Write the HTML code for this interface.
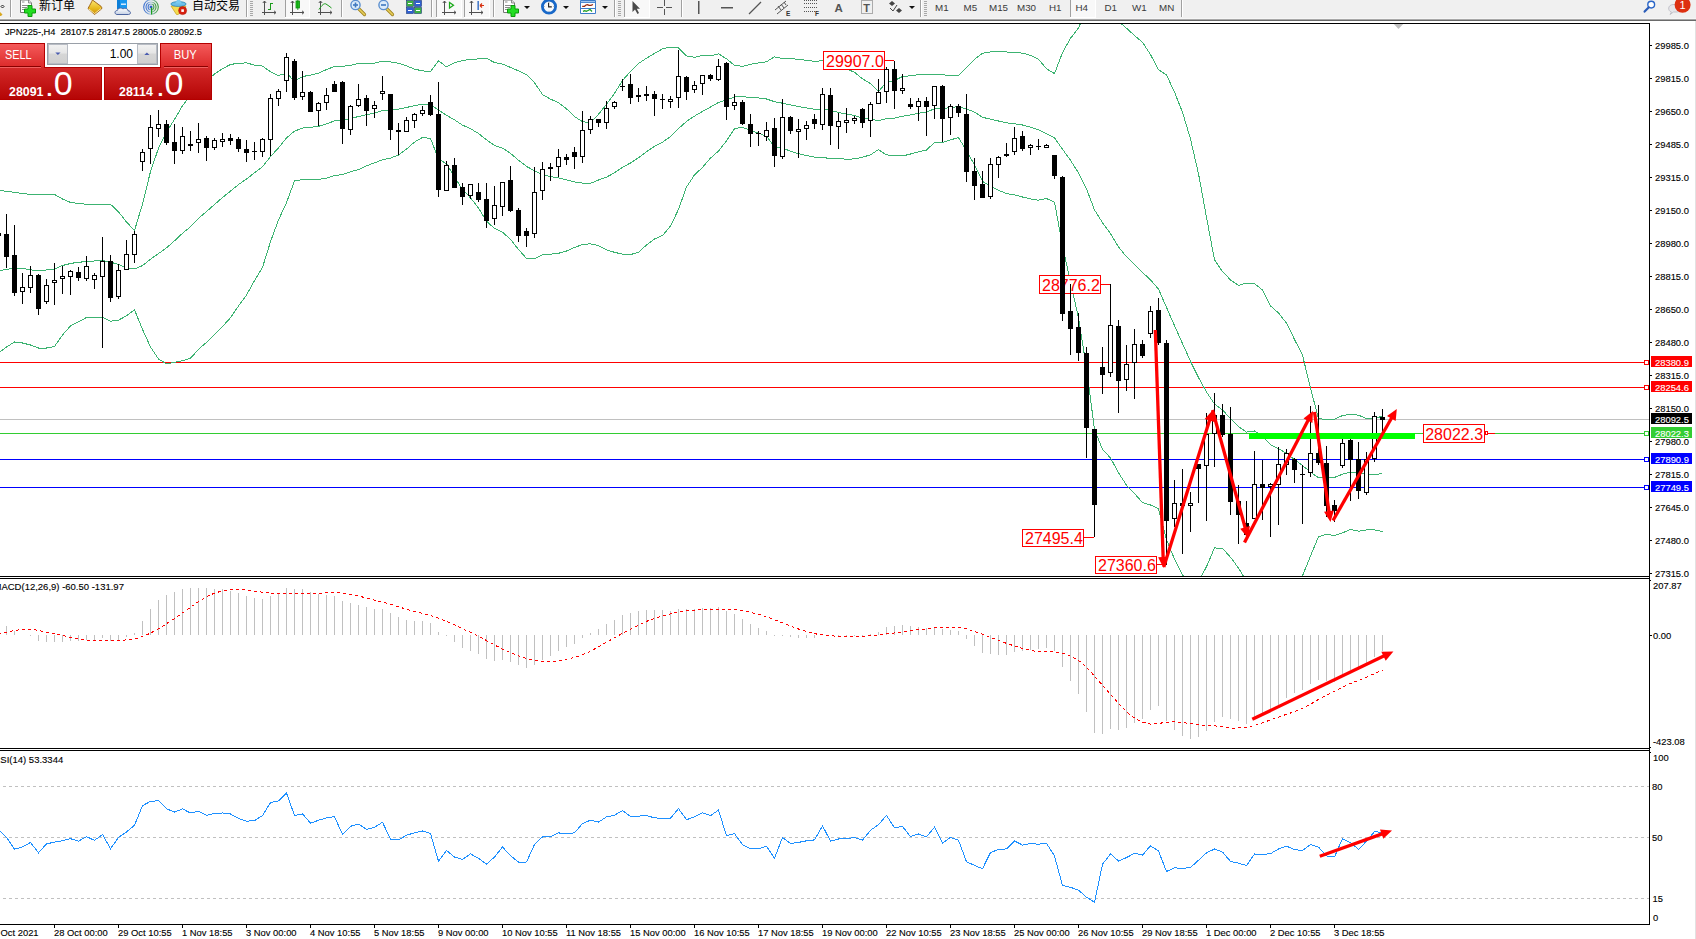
<!DOCTYPE html>
<html><head><meta charset="utf-8"><style>
html,body{margin:0;padding:0;width:1696px;height:939px;overflow:hidden;background:#fff}
svg{display:block}
text{font-family:"Liberation Sans","Noto Sans CJK SC",sans-serif}
</style></head><body>
<svg width="1696" height="939" viewBox="0 0 1696 939">
<rect x="0" y="0" width="1696" height="939" fill="#fff"/>
<defs><clipPath id="cm"><rect x="0" y="24" width="1649" height="552"/></clipPath><clipPath id="cd"><rect x="0" y="579" width="1649" height="169"/></clipPath><clipPath id="cr"><rect x="0" y="751" width="1649" height="173"/></clipPath></defs>
<g clip-path="url(#cm)" shape-rendering="crispEdges">
<line x1="0" y1="362.5" x2="1649" y2="362.5" stroke="#ff0000" stroke-width="1"/>
<rect x="1644.5" y="360.5" width="4" height="4" fill="#fff" stroke="#ff0000" stroke-width="1"/>
<line x1="0" y1="387.5" x2="1649" y2="387.5" stroke="#ff0000" stroke-width="1"/>
<rect x="1644.5" y="385.5" width="4" height="4" fill="#fff" stroke="#ff0000" stroke-width="1"/>
<line x1="0" y1="419.5" x2="1649" y2="419.5" stroke="#c0c0c0" stroke-width="1"/>
<line x1="0" y1="433.5" x2="1649" y2="433.5" stroke="#32cd32" stroke-width="1"/>
<rect x="1644.5" y="431.5" width="4" height="4" fill="#fff" stroke="#32cd32" stroke-width="1"/>
<line x1="0" y1="459.5" x2="1649" y2="459.5" stroke="#0000ff" stroke-width="1"/>
<rect x="1644.5" y="457.5" width="4" height="4" fill="#fff" stroke="#0000ff" stroke-width="1"/>
<line x1="0" y1="487.5" x2="1649" y2="487.5" stroke="#0000ff" stroke-width="1"/>
<rect x="1644.5" y="485.5" width="4" height="4" fill="#fff" stroke="#0000ff" stroke-width="1"/>
<polyline points="-1.5,190.0 6.5,191.5 14.5,192.2 22.5,193.5 30.5,194.5 38.5,194.5 46.5,194.5 54.5,194.5 62.5,199.0 70.5,202.4 78.5,203.5 86.5,204.3 94.5,204.3 102.5,204.3 110.5,204.3 118.5,211.8 126.5,222.0 134.5,230.5 142.5,204.0 150.5,171.5 158.5,148.2 166.5,132.0 174.5,119.4 182.5,105.8 190.5,95.4 198.5,87.2 206.5,80.7 214.5,74.1 222.5,68.7 230.5,64.5 238.5,63.2 246.5,62.9 254.5,65.1 262.5,66.1 270.5,71.7 278.5,75.6 286.5,73.1 294.5,81.3 302.5,76.5 310.5,75.2 318.5,73.1 326.5,69.6 334.5,66.4 342.5,66.3 350.5,65.3 358.5,63.5 366.5,63.6 374.5,63.1 382.5,61.3 390.5,61.9 398.5,63.3 406.5,65.9 414.5,69.1 422.5,70.9 430.5,71.6 438.5,60.8 446.5,66.9 454.5,62.8 462.5,60.5 470.5,59.5 478.5,58.9 486.5,58.4 494.5,62.5 502.5,64.1 510.5,67.4 518.5,70.9 526.5,74.5 534.5,82.7 542.5,94.5 550.5,99.1 558.5,102.6 566.5,108.8 574.5,116.6 582.5,121.6 590.5,122.8 598.5,114.2 606.5,104.3 614.5,93.3 622.5,80.5 630.5,71.4 638.5,63.5 646.5,58.2 654.5,53.5 662.5,48.8 670.5,47.1 678.5,47.9 686.5,55.9 694.5,57.3 702.5,55.4 710.5,55.8 718.5,53.8 726.5,58.8 734.5,65.4 742.5,66.3 750.5,64.3 758.5,63.0 766.5,61.7 774.5,56.9 782.5,58.4 790.5,58.6 798.5,59.3 806.5,60.3 814.5,61.3 822.5,60.8 830.5,61.8 838.5,66.4 846.5,68.7 854.5,72.3 862.5,78.8 870.5,83.6 878.5,91.4 886.5,82.4 894.5,80.5 902.5,76.5 910.5,75.8 918.5,74.7 926.5,74.2 934.5,74.9 942.5,74.9 950.5,75.2 958.5,75.8 966.5,67.6 974.5,59.2 982.5,53.2 990.5,52.0 998.5,51.8 1006.5,52.0 1014.5,52.7 1022.5,53.1 1030.5,55.3 1038.5,59.4 1046.5,68.7 1054.5,73.6 1062.5,52.7 1070.5,38.3 1078.5,28.0 1086.5,9.7 1094.5,-9.8 1102.5,-4.0 1110.5,9.4 1118.5,21.3 1126.5,28.2 1134.5,35.5 1142.5,42.3 1150.5,54.6 1158.5,69.6 1166.5,75.0 1174.5,92.1 1182.5,112.2 1190.5,139.0 1198.5,173.7 1206.5,217.2 1214.5,259.9 1222.5,271.5 1230.5,279.9 1238.5,285.4 1246.5,283.1 1254.5,283.8 1262.5,289.9 1270.5,305.9 1278.5,313.0 1286.5,323.1 1294.5,339.4 1302.5,355.2 1310.5,388.2 1318.5,418.6 1326.5,419.5 1334.5,419.2 1342.5,415.5 1350.5,414.5 1358.5,415.1 1366.5,418.7 1374.5,419.0 1382.5,415.8" fill="none" stroke="#3cb371" stroke-width="1" />
<polyline points="-1.5,270.8 6.5,269.5 14.5,268.0 22.5,268.5 30.5,269.8 38.5,271.0 46.5,270.0 54.5,269.0 62.5,265.5 70.5,263.5 78.5,262.2 86.5,261.7 94.5,261.0 102.5,260.5 110.5,262.2 118.5,264.4 126.5,268.1 134.5,269.0 142.5,265.6 150.5,259.2 158.5,253.6 166.5,247.9 174.5,240.8 182.5,233.3 190.5,226.8 198.5,218.3 206.5,211.5 214.5,204.5 222.5,197.6 230.5,191.1 238.5,184.6 246.5,179.0 254.5,172.8 262.5,166.7 270.5,156.7 278.5,147.8 286.5,137.9 294.5,131.1 302.5,128.1 310.5,127.3 318.5,126.3 326.5,123.9 334.5,120.9 342.5,120.5 350.5,118.5 358.5,116.5 366.5,114.7 374.5,112.9 382.5,110.6 390.5,110.0 398.5,109.2 406.5,107.5 414.5,105.6 422.5,104.2 430.5,105.0 438.5,109.9 446.5,115.3 454.5,119.8 462.5,125.1 470.5,128.7 478.5,133.5 486.5,139.8 494.5,145.5 502.5,148.1 510.5,153.4 518.5,160.2 526.5,166.4 534.5,170.8 542.5,174.7 550.5,176.6 558.5,177.9 566.5,179.9 574.5,182.0 582.5,183.1 590.5,183.3 598.5,180.0 606.5,177.1 614.5,172.8 622.5,167.3 630.5,163.0 638.5,157.8 646.5,151.6 654.5,146.3 662.5,142.2 670.5,136.6 678.5,128.6 686.5,121.4 694.5,116.1 702.5,111.4 710.5,107.0 718.5,102.4 726.5,99.8 734.5,97.0 742.5,96.7 750.5,97.5 758.5,98.0 766.5,99.0 774.5,101.7 782.5,103.2 790.5,104.9 798.5,106.5 806.5,108.0 814.5,109.2 822.5,109.0 830.5,110.3 838.5,112.5 846.5,113.9 854.5,115.6 862.5,118.0 870.5,119.2 878.5,120.5 886.5,118.7 894.5,118.1 902.5,116.3 910.5,114.9 918.5,113.3 926.5,112.1 934.5,108.7 942.5,108.7 950.5,107.5 958.5,106.7 966.5,109.0 974.5,112.1 982.5,117.3 990.5,119.2 998.5,121.0 1006.5,122.8 1014.5,123.8 1022.5,125.0 1030.5,127.1 1038.5,129.8 1046.5,133.6 1054.5,137.9 1062.5,149.2 1070.5,160.3 1078.5,172.9 1086.5,188.9 1094.5,209.9 1102.5,222.7 1110.5,233.6 1118.5,247.0 1126.5,256.7 1134.5,264.6 1142.5,272.4 1150.5,279.8 1158.5,289.1 1166.5,307.4 1174.5,325.6 1182.5,343.5 1190.5,361.4 1198.5,377.5 1206.5,392.0 1214.5,403.9 1222.5,409.9 1230.5,418.6 1238.5,426.7 1246.5,432.1 1254.5,431.0 1262.5,436.6 1270.5,444.6 1278.5,448.8 1286.5,453.2 1294.5,459.5 1302.5,465.5 1310.5,472.1 1318.5,477.7 1326.5,477.0 1334.5,477.4 1342.5,474.2 1350.5,472.1 1358.5,473.2 1366.5,474.4 1374.5,474.5 1382.5,473.7" fill="none" stroke="#3cb371" stroke-width="1" />
<polyline points="-1.5,353.0 6.5,347.0 14.5,342.0 22.5,343.0 30.5,345.0 38.5,348.0 46.5,348.0 54.5,346.5 62.5,335.0 70.5,326.0 78.5,321.8 86.5,317.5 94.5,317.5 102.5,317.2 110.5,321.3 118.5,320.1 126.5,315.8 134.5,309.9 142.5,329.5 150.5,346.9 158.5,359.0 166.5,363.9 174.5,362.2 182.5,360.8 190.5,358.2 198.5,349.4 206.5,342.3 214.5,334.8 222.5,326.6 230.5,317.7 238.5,306.0 246.5,295.0 254.5,280.6 262.5,267.3 270.5,241.7 278.5,219.9 286.5,202.7 294.5,180.9 302.5,179.7 310.5,179.4 318.5,179.4 326.5,178.1 334.5,175.4 342.5,174.7 350.5,171.8 358.5,169.6 366.5,165.8 374.5,162.8 382.5,159.8 390.5,158.1 398.5,155.0 406.5,149.1 414.5,142.1 422.5,137.4 430.5,138.5 438.5,159.1 446.5,163.8 454.5,176.8 462.5,189.7 470.5,197.8 478.5,208.1 486.5,221.2 494.5,228.5 502.5,232.2 510.5,239.4 518.5,249.5 526.5,258.4 534.5,258.9 542.5,254.9 550.5,254.2 558.5,253.3 566.5,251.0 574.5,247.5 582.5,244.5 590.5,243.8 598.5,245.7 606.5,249.8 614.5,252.3 622.5,254.2 630.5,254.6 638.5,252.2 646.5,245.0 654.5,239.0 662.5,235.5 670.5,226.1 678.5,209.3 686.5,187.0 694.5,174.9 702.5,167.4 710.5,158.1 718.5,151.0 726.5,140.8 734.5,128.7 742.5,127.2 750.5,130.6 758.5,132.9 766.5,136.4 774.5,146.6 782.5,148.0 790.5,151.2 798.5,153.7 806.5,155.6 814.5,157.2 822.5,157.2 830.5,158.8 838.5,158.6 846.5,159.2 854.5,158.9 862.5,157.2 870.5,154.8 878.5,149.6 886.5,154.9 894.5,155.7 902.5,156.0 910.5,154.0 918.5,151.9 926.5,150.1 934.5,142.4 942.5,142.6 950.5,139.8 958.5,137.7 966.5,150.4 974.5,165.0 982.5,181.3 990.5,186.4 998.5,190.2 1006.5,193.6 1014.5,194.9 1022.5,197.0 1030.5,198.9 1038.5,200.2 1046.5,198.5 1054.5,202.1 1062.5,245.6 1070.5,282.3 1078.5,317.7 1086.5,368.2 1094.5,429.6 1102.5,449.4 1110.5,457.9 1118.5,472.8 1126.5,485.2 1134.5,493.6 1142.5,502.6 1150.5,505.0 1158.5,508.6 1166.5,539.7 1174.5,559.1 1182.5,574.8 1190.5,583.8 1198.5,581.3 1206.5,566.7 1214.5,547.9 1222.5,548.4 1230.5,557.3 1238.5,568.0 1246.5,581.1 1254.5,578.2 1262.5,583.4 1270.5,583.3 1278.5,584.6 1286.5,583.3 1294.5,579.6 1302.5,575.8 1310.5,556.0 1318.5,536.8 1326.5,534.3 1334.5,535.5 1342.5,532.8 1350.5,529.5 1358.5,531.2 1366.5,530.0 1374.5,529.9 1382.5,531.6" fill="none" stroke="#3cb371" stroke-width="1" />
<line x1="885" y1="60.5" x2="894" y2="60.5" stroke="#ff0000"/><rect x="823.5" y="51.5" width="61" height="18" fill="#fff" stroke="#ff0000"/>
<text x="826" y="67" font-size="16" fill="#ff0000" text-anchor="start" >29907.0</text>
<line x1="1101" y1="284.5" x2="1110" y2="284.5" stroke="#ff0000"/><rect x="1039.5" y="275.5" width="61" height="18" fill="#fff" stroke="#ff0000"/>
<text x="1042" y="291" font-size="16" fill="#ff0000" text-anchor="start" >28776.2</text>
<line x1="1084" y1="537.5" x2="1094" y2="537.5" stroke="#ff0000"/><rect x="1022.5" y="529.5" width="61" height="17" fill="#fff" stroke="#ff0000"/>
<text x="1025" y="544" font-size="16" fill="#ff0000" text-anchor="start" >27495.4</text>
<line x1="1157" y1="564.5" x2="1166" y2="564.5" stroke="#ff0000"/><rect x="1095.5" y="556.5" width="61" height="17" fill="#fff" stroke="#ff0000"/>
<text x="1098" y="571" font-size="16" fill="#ff0000" text-anchor="start" >27360.6</text>
<rect x="1423.5" y="424.5" width="61" height="18" fill="#fff" stroke="#ff0000"/><rect x="1485.5" y="431.5" width="2" height="3" fill="#fff" stroke="#ff0000"/><line x1="1488" y1="433.5" x2="1495" y2="433.5" stroke="#ff0000"/>
<text x="1425.2" y="439.6" font-size="16" fill="#ff0000" text-anchor="start" >28022.3</text>
<line x1="-1.5" y1="228" x2="-1.5" y2="240" stroke="#000"/>
<rect x="-4" y="233" width="5" height="3" fill="#000"/>
<line x1="6.5" y1="214" x2="6.5" y2="268" stroke="#000"/>
<rect x="4" y="234" width="5" height="23" fill="#000"/>
<line x1="14.5" y1="225" x2="14.5" y2="296" stroke="#000"/>
<rect x="12" y="255" width="5" height="38" fill="#000"/>
<line x1="22.5" y1="273" x2="22.5" y2="304" stroke="#000"/>
<rect x="20.5" y="287.5" width="4" height="4" fill="#fff" stroke="#000"/>
<line x1="30.5" y1="266" x2="30.5" y2="293" stroke="#000"/>
<rect x="28.5" y="275.5" width="4" height="12" fill="#fff" stroke="#000"/>
<line x1="38.5" y1="274" x2="38.5" y2="315" stroke="#000"/>
<rect x="36" y="275" width="5" height="34" fill="#000"/>
<line x1="46.5" y1="279" x2="46.5" y2="304" stroke="#000"/>
<rect x="44.5" y="285.5" width="4" height="16" fill="#fff" stroke="#000"/>
<line x1="54.5" y1="263" x2="54.5" y2="305" stroke="#000"/>
<rect x="52.5" y="280.5" width="4" height="2" fill="#fff" stroke="#000"/>
<line x1="62.5" y1="266" x2="62.5" y2="294" stroke="#000"/>
<rect x="60.5" y="276.5" width="4" height="2" fill="#fff" stroke="#000"/>
<line x1="70.5" y1="270" x2="70.5" y2="295" stroke="#000"/>
<rect x="68.5" y="271.5" width="4" height="5" fill="#fff" stroke="#000"/>
<line x1="78.5" y1="267" x2="78.5" y2="281" stroke="#000"/>
<rect x="76" y="272" width="5" height="6" fill="#000"/>
<line x1="86.5" y1="256" x2="86.5" y2="281" stroke="#000"/>
<rect x="84.5" y="266.5" width="4" height="12" fill="#fff" stroke="#000"/>
<line x1="94.5" y1="273" x2="94.5" y2="289" stroke="#000"/>
<rect x="92.5" y="275.5" width="4" height="4" fill="#fff" stroke="#000"/>
<line x1="102.5" y1="237" x2="102.5" y2="348" stroke="#000"/>
<rect x="100.5" y="261.5" width="4" height="15" fill="#fff" stroke="#000"/>
<line x1="110.5" y1="255" x2="110.5" y2="302" stroke="#000"/>
<rect x="108" y="261" width="5" height="37" fill="#000"/>
<line x1="118.5" y1="264" x2="118.5" y2="299" stroke="#000"/>
<rect x="116.5" y="270.5" width="4" height="26" fill="#fff" stroke="#000"/>
<line x1="126.5" y1="240" x2="126.5" y2="270" stroke="#000"/>
<rect x="124.5" y="254.5" width="4" height="15" fill="#fff" stroke="#000"/>
<line x1="134.5" y1="231" x2="134.5" y2="263" stroke="#000"/>
<rect x="132.5" y="234.5" width="4" height="20" fill="#fff" stroke="#000"/>
<line x1="142.5" y1="149" x2="142.5" y2="171" stroke="#000"/>
<rect x="140.5" y="152.5" width="4" height="9" fill="#fff" stroke="#000"/>
<line x1="150.5" y1="115" x2="150.5" y2="164" stroke="#000"/>
<rect x="148.5" y="127.5" width="4" height="21" fill="#fff" stroke="#000"/>
<line x1="158.5" y1="110" x2="158.5" y2="137" stroke="#000"/>
<rect x="156.5" y="124.5" width="4" height="4" fill="#fff" stroke="#000"/>
<line x1="166.5" y1="120" x2="166.5" y2="145" stroke="#000"/>
<rect x="164" y="124" width="5" height="19" fill="#000"/>
<line x1="174.5" y1="124" x2="174.5" y2="164" stroke="#000"/>
<rect x="172" y="142" width="5" height="9" fill="#000"/>
<line x1="182.5" y1="127" x2="182.5" y2="154" stroke="#000"/>
<rect x="180.5" y="136.5" width="4" height="14" fill="#fff" stroke="#000"/>
<line x1="190.5" y1="131" x2="190.5" y2="151" stroke="#000"/>
<rect x="188" y="144" width="5" height="2" fill="#000"/>
<line x1="198.5" y1="123" x2="198.5" y2="153" stroke="#000"/>
<rect x="196.5" y="139.5" width="4" height="3" fill="#fff" stroke="#000"/>
<line x1="206.5" y1="136" x2="206.5" y2="161" stroke="#000"/>
<rect x="204" y="138" width="5" height="10" fill="#000"/>
<line x1="214.5" y1="138" x2="214.5" y2="150" stroke="#000"/>
<rect x="212.5" y="140.5" width="4" height="7" fill="#fff" stroke="#000"/>
<line x1="222.5" y1="133" x2="222.5" y2="147" stroke="#000"/>
<rect x="220.5" y="139.5" width="4" height="2" fill="#fff" stroke="#000"/>
<line x1="230.5" y1="134" x2="230.5" y2="145" stroke="#000"/>
<rect x="228" y="138" width="5" height="3" fill="#000"/>
<line x1="238.5" y1="137" x2="238.5" y2="152" stroke="#000"/>
<rect x="236" y="139" width="5" height="10" fill="#000"/>
<line x1="246.5" y1="140" x2="246.5" y2="162" stroke="#000"/>
<rect x="244" y="149" width="5" height="4" fill="#000"/>
<line x1="254.5" y1="142" x2="254.5" y2="160" stroke="#000"/>
<rect x="252" y="151" width="5" height="1" fill="#000"/>
<line x1="262.5" y1="138" x2="262.5" y2="157" stroke="#000"/>
<rect x="260.5" y="139.5" width="4" height="12" fill="#fff" stroke="#000"/>
<line x1="270.5" y1="94" x2="270.5" y2="156" stroke="#000"/>
<rect x="268.5" y="98.5" width="4" height="41" fill="#fff" stroke="#000"/>
<line x1="278.5" y1="89" x2="278.5" y2="106" stroke="#000"/>
<rect x="276.5" y="91.5" width="4" height="7" fill="#fff" stroke="#000"/>
<line x1="286.5" y1="53" x2="286.5" y2="92" stroke="#000"/>
<rect x="284.5" y="57.5" width="4" height="23" fill="#fff" stroke="#000"/>
<line x1="294.5" y1="59" x2="294.5" y2="100" stroke="#000"/>
<rect x="292" y="61" width="5" height="37" fill="#000"/>
<line x1="302.5" y1="71" x2="302.5" y2="100" stroke="#000"/>
<rect x="300.5" y="92.5" width="4" height="4" fill="#fff" stroke="#000"/>
<line x1="310.5" y1="91" x2="310.5" y2="112" stroke="#000"/>
<rect x="308" y="92" width="5" height="20" fill="#000"/>
<line x1="318.5" y1="102" x2="318.5" y2="126" stroke="#000"/>
<rect x="316.5" y="103.5" width="4" height="7" fill="#fff" stroke="#000"/>
<line x1="326.5" y1="88" x2="326.5" y2="110" stroke="#000"/>
<rect x="324.5" y="95.5" width="4" height="7" fill="#fff" stroke="#000"/>
<line x1="334.5" y1="81" x2="334.5" y2="92" stroke="#000"/>
<rect x="332" y="84" width="5" height="8" fill="#000"/>
<line x1="342.5" y1="81" x2="342.5" y2="144" stroke="#000"/>
<rect x="340" y="82" width="5" height="47" fill="#000"/>
<line x1="350.5" y1="105" x2="350.5" y2="135" stroke="#000"/>
<rect x="348.5" y="106.5" width="4" height="23" fill="#fff" stroke="#000"/>
<line x1="358.5" y1="84" x2="358.5" y2="107" stroke="#000"/>
<rect x="356.5" y="99.5" width="4" height="6" fill="#fff" stroke="#000"/>
<line x1="366.5" y1="95" x2="366.5" y2="126" stroke="#000"/>
<rect x="364" y="98" width="5" height="13" fill="#000"/>
<line x1="374.5" y1="101" x2="374.5" y2="118" stroke="#000"/>
<rect x="372.5" y="105.5" width="4" height="3" fill="#fff" stroke="#000"/>
<line x1="382.5" y1="76" x2="382.5" y2="100" stroke="#000"/>
<rect x="380.5" y="91.5" width="4" height="2" fill="#fff" stroke="#000"/>
<line x1="390.5" y1="94" x2="390.5" y2="140" stroke="#000"/>
<rect x="388" y="94" width="5" height="36" fill="#000"/>
<line x1="398.5" y1="123" x2="398.5" y2="155" stroke="#000"/>
<rect x="396" y="130" width="5" height="2" fill="#000"/>
<line x1="406.5" y1="117" x2="406.5" y2="132" stroke="#000"/>
<rect x="404.5" y="120.5" width="4" height="11" fill="#fff" stroke="#000"/>
<line x1="414.5" y1="113" x2="414.5" y2="128" stroke="#000"/>
<rect x="412.5" y="114.5" width="4" height="6" fill="#fff" stroke="#000"/>
<line x1="422.5" y1="106" x2="422.5" y2="116" stroke="#000"/>
<rect x="420.5" y="110.5" width="4" height="3" fill="#fff" stroke="#000"/>
<line x1="430.5" y1="95" x2="430.5" y2="116" stroke="#000"/>
<rect x="428" y="102" width="5" height="13" fill="#000"/>
<line x1="438.5" y1="82" x2="438.5" y2="197" stroke="#000"/>
<rect x="436" y="114" width="5" height="76" fill="#000"/>
<line x1="446.5" y1="161" x2="446.5" y2="191" stroke="#000"/>
<rect x="444.5" y="165.5" width="4" height="25" fill="#fff" stroke="#000"/>
<line x1="454.5" y1="158" x2="454.5" y2="188" stroke="#000"/>
<rect x="452" y="165" width="5" height="23" fill="#000"/>
<line x1="462.5" y1="183" x2="462.5" y2="205" stroke="#000"/>
<rect x="460" y="187" width="5" height="10" fill="#000"/>
<line x1="470.5" y1="184" x2="470.5" y2="199" stroke="#000"/>
<rect x="468.5" y="184.5" width="4" height="11" fill="#fff" stroke="#000"/>
<line x1="478.5" y1="183" x2="478.5" y2="202" stroke="#000"/>
<rect x="476" y="192" width="5" height="8" fill="#000"/>
<line x1="486.5" y1="183" x2="486.5" y2="228" stroke="#000"/>
<rect x="484" y="199" width="5" height="22" fill="#000"/>
<line x1="494.5" y1="186" x2="494.5" y2="225" stroke="#000"/>
<rect x="492.5" y="205.5" width="4" height="13" fill="#fff" stroke="#000"/>
<line x1="502.5" y1="182" x2="502.5" y2="216" stroke="#000"/>
<rect x="500.5" y="182.5" width="4" height="24" fill="#fff" stroke="#000"/>
<line x1="510.5" y1="166" x2="510.5" y2="212" stroke="#000"/>
<rect x="508" y="180" width="5" height="31" fill="#000"/>
<line x1="518.5" y1="208" x2="518.5" y2="242" stroke="#000"/>
<rect x="516" y="210" width="5" height="26" fill="#000"/>
<line x1="526.5" y1="228" x2="526.5" y2="247" stroke="#000"/>
<rect x="524" y="231" width="5" height="5" fill="#000"/>
<line x1="534.5" y1="167" x2="534.5" y2="238" stroke="#000"/>
<rect x="532.5" y="192.5" width="4" height="41" fill="#fff" stroke="#000"/>
<line x1="542.5" y1="162" x2="542.5" y2="200" stroke="#000"/>
<rect x="540.5" y="169.5" width="4" height="21" fill="#fff" stroke="#000"/>
<line x1="550.5" y1="163" x2="550.5" y2="181" stroke="#000"/>
<rect x="548" y="167" width="5" height="2" fill="#000"/>
<line x1="558.5" y1="149" x2="558.5" y2="177" stroke="#000"/>
<rect x="556.5" y="157.5" width="4" height="9" fill="#fff" stroke="#000"/>
<line x1="566.5" y1="154" x2="566.5" y2="165" stroke="#000"/>
<rect x="564" y="157" width="5" height="3" fill="#000"/>
<line x1="574.5" y1="147" x2="574.5" y2="169" stroke="#000"/>
<rect x="572" y="152" width="5" height="5" fill="#000"/>
<line x1="582.5" y1="111" x2="582.5" y2="163" stroke="#000"/>
<rect x="580.5" y="130.5" width="4" height="26" fill="#fff" stroke="#000"/>
<line x1="590.5" y1="116" x2="590.5" y2="134" stroke="#000"/>
<rect x="588.5" y="119.5" width="4" height="10" fill="#fff" stroke="#000"/>
<line x1="598.5" y1="119" x2="598.5" y2="127" stroke="#000"/>
<rect x="596" y="119" width="5" height="4" fill="#000"/>
<line x1="606.5" y1="101" x2="606.5" y2="129" stroke="#000"/>
<rect x="604.5" y="108.5" width="4" height="14" fill="#fff" stroke="#000"/>
<line x1="614.5" y1="101" x2="614.5" y2="109" stroke="#000"/>
<rect x="612.5" y="102.5" width="4" height="4" fill="#fff" stroke="#000"/>
<line x1="622.5" y1="79" x2="622.5" y2="91" stroke="#000"/>
<rect x="620" y="86" width="5" height="1" fill="#000"/>
<line x1="630.5" y1="74" x2="630.5" y2="104" stroke="#000"/>
<rect x="628" y="84" width="5" height="14" fill="#000"/>
<line x1="638.5" y1="88" x2="638.5" y2="102" stroke="#000"/>
<rect x="636" y="95" width="5" height="2" fill="#000"/>
<line x1="646.5" y1="86" x2="646.5" y2="101" stroke="#000"/>
<rect x="644" y="94" width="5" height="2" fill="#000"/>
<line x1="654.5" y1="91" x2="654.5" y2="116" stroke="#000"/>
<rect x="652" y="94" width="5" height="5" fill="#000"/>
<line x1="662.5" y1="94" x2="662.5" y2="109" stroke="#000"/>
<rect x="660" y="99" width="5" height="1" fill="#000"/>
<line x1="670.5" y1="96" x2="670.5" y2="108" stroke="#000"/>
<rect x="668.5" y="99.5" width="4" height="2" fill="#fff" stroke="#000"/>
<line x1="678.5" y1="50" x2="678.5" y2="108" stroke="#000"/>
<rect x="676.5" y="76.5" width="4" height="21" fill="#fff" stroke="#000"/>
<line x1="686.5" y1="76" x2="686.5" y2="100" stroke="#000"/>
<rect x="684" y="77" width="5" height="15" fill="#000"/>
<line x1="694.5" y1="81" x2="694.5" y2="93" stroke="#000"/>
<rect x="692.5" y="85.5" width="4" height="4" fill="#fff" stroke="#000"/>
<line x1="702.5" y1="75" x2="702.5" y2="95" stroke="#000"/>
<rect x="700.5" y="75.5" width="4" height="8" fill="#fff" stroke="#000"/>
<line x1="710.5" y1="74" x2="710.5" y2="81" stroke="#000"/>
<rect x="708" y="75" width="5" height="4" fill="#000"/>
<line x1="718.5" y1="59" x2="718.5" y2="81" stroke="#000"/>
<rect x="716.5" y="66.5" width="4" height="13" fill="#fff" stroke="#000"/>
<line x1="726.5" y1="62" x2="726.5" y2="120" stroke="#000"/>
<rect x="724" y="63" width="5" height="44" fill="#000"/>
<line x1="734.5" y1="94" x2="734.5" y2="110" stroke="#000"/>
<rect x="732.5" y="102.5" width="4" height="3" fill="#fff" stroke="#000"/>
<line x1="742.5" y1="100" x2="742.5" y2="125" stroke="#000"/>
<rect x="740" y="102" width="5" height="22" fill="#000"/>
<line x1="750.5" y1="114" x2="750.5" y2="147" stroke="#000"/>
<rect x="748" y="124" width="5" height="10" fill="#000"/>
<line x1="758.5" y1="131" x2="758.5" y2="146" stroke="#000"/>
<rect x="756" y="133" width="5" height="1" fill="#000"/>
<line x1="766.5" y1="122" x2="766.5" y2="141" stroke="#000"/>
<rect x="764.5" y="130.5" width="4" height="6" fill="#fff" stroke="#000"/>
<line x1="774.5" y1="118" x2="774.5" y2="167" stroke="#000"/>
<rect x="772" y="128" width="5" height="28" fill="#000"/>
<line x1="782.5" y1="99" x2="782.5" y2="159" stroke="#000"/>
<rect x="780.5" y="117.5" width="4" height="39" fill="#fff" stroke="#000"/>
<line x1="790.5" y1="116" x2="790.5" y2="134" stroke="#000"/>
<rect x="788" y="117" width="5" height="14" fill="#000"/>
<line x1="798.5" y1="119" x2="798.5" y2="158" stroke="#000"/>
<rect x="796.5" y="129.5" width="4" height="2" fill="#fff" stroke="#000"/>
<line x1="806.5" y1="121" x2="806.5" y2="140" stroke="#000"/>
<rect x="804.5" y="125.5" width="4" height="3" fill="#fff" stroke="#000"/>
<line x1="814.5" y1="114" x2="814.5" y2="129" stroke="#000"/>
<rect x="812" y="119" width="5" height="5" fill="#000"/>
<line x1="822.5" y1="88" x2="822.5" y2="130" stroke="#000"/>
<rect x="820.5" y="94.5" width="4" height="30" fill="#fff" stroke="#000"/>
<line x1="830.5" y1="88" x2="830.5" y2="145" stroke="#000"/>
<rect x="828" y="95" width="5" height="31" fill="#000"/>
<line x1="838.5" y1="113" x2="838.5" y2="149" stroke="#000"/>
<rect x="836.5" y="121.5" width="4" height="5" fill="#fff" stroke="#000"/>
<line x1="846.5" y1="108" x2="846.5" y2="133" stroke="#000"/>
<rect x="844.5" y="120.5" width="4" height="2" fill="#fff" stroke="#000"/>
<line x1="854.5" y1="116" x2="854.5" y2="124" stroke="#000"/>
<rect x="852.5" y="118.5" width="4" height="2" fill="#fff" stroke="#000"/>
<line x1="862.5" y1="108" x2="862.5" y2="128" stroke="#000"/>
<rect x="860" y="109" width="5" height="14" fill="#000"/>
<line x1="870.5" y1="102" x2="870.5" y2="137" stroke="#000"/>
<rect x="868.5" y="104.5" width="4" height="16" fill="#fff" stroke="#000"/>
<line x1="878.5" y1="79" x2="878.5" y2="104" stroke="#000"/>
<rect x="876.5" y="92.5" width="4" height="11" fill="#fff" stroke="#000"/>
<line x1="886.5" y1="67" x2="886.5" y2="103" stroke="#000"/>
<rect x="884.5" y="69.5" width="4" height="22" fill="#fff" stroke="#000"/>
<line x1="894.5" y1="61" x2="894.5" y2="109" stroke="#000"/>
<rect x="892" y="69" width="5" height="22" fill="#000"/>
<line x1="902.5" y1="74" x2="902.5" y2="94" stroke="#000"/>
<rect x="900.5" y="88.5" width="4" height="2" fill="#fff" stroke="#000"/>
<line x1="910.5" y1="98" x2="910.5" y2="109" stroke="#000"/>
<rect x="908" y="104" width="5" height="3" fill="#000"/>
<line x1="918.5" y1="98" x2="918.5" y2="121" stroke="#000"/>
<rect x="916.5" y="101.5" width="4" height="5" fill="#fff" stroke="#000"/>
<line x1="926.5" y1="97" x2="926.5" y2="136" stroke="#000"/>
<rect x="924" y="101" width="5" height="6" fill="#000"/>
<line x1="934.5" y1="86" x2="934.5" y2="119" stroke="#000"/>
<rect x="932.5" y="86.5" width="4" height="19" fill="#fff" stroke="#000"/>
<line x1="942.5" y1="85" x2="942.5" y2="142" stroke="#000"/>
<rect x="940" y="86" width="5" height="33" fill="#000"/>
<line x1="950.5" y1="104" x2="950.5" y2="135" stroke="#000"/>
<rect x="948.5" y="106.5" width="4" height="11" fill="#fff" stroke="#000"/>
<line x1="958.5" y1="104" x2="958.5" y2="117" stroke="#000"/>
<rect x="956" y="106" width="5" height="7" fill="#000"/>
<line x1="966.5" y1="94" x2="966.5" y2="182" stroke="#000"/>
<rect x="964" y="114" width="5" height="58" fill="#000"/>
<line x1="974.5" y1="158" x2="974.5" y2="200" stroke="#000"/>
<rect x="972" y="171" width="5" height="15" fill="#000"/>
<line x1="982.5" y1="171" x2="982.5" y2="198" stroke="#000"/>
<rect x="980" y="184" width="5" height="14" fill="#000"/>
<line x1="990.5" y1="158" x2="990.5" y2="199" stroke="#000"/>
<rect x="988.5" y="164.5" width="4" height="32" fill="#fff" stroke="#000"/>
<line x1="998.5" y1="156" x2="998.5" y2="178" stroke="#000"/>
<rect x="996.5" y="157.5" width="4" height="7" fill="#fff" stroke="#000"/>
<line x1="1006.5" y1="143" x2="1006.5" y2="157" stroke="#000"/>
<rect x="1004" y="154" width="5" height="2" fill="#000"/>
<line x1="1014.5" y1="127" x2="1014.5" y2="155" stroke="#000"/>
<rect x="1012.5" y="138.5" width="4" height="13" fill="#fff" stroke="#000"/>
<line x1="1022.5" y1="131" x2="1022.5" y2="151" stroke="#000"/>
<rect x="1020" y="136" width="5" height="13" fill="#000"/>
<line x1="1030.5" y1="144" x2="1030.5" y2="155" stroke="#000"/>
<rect x="1028.5" y="145.5" width="4" height="2" fill="#fff" stroke="#000"/>
<line x1="1038.5" y1="139" x2="1038.5" y2="150" stroke="#000"/>
<rect x="1036" y="146" width="5" height="1" fill="#000"/>
<line x1="1046.5" y1="144" x2="1046.5" y2="148" stroke="#000"/>
<rect x="1044.5" y="145.5" width="4" height="2" fill="#fff" stroke="#000"/>
<line x1="1054.5" y1="155" x2="1054.5" y2="179" stroke="#000"/>
<rect x="1052" y="155" width="5" height="21" fill="#000"/>
<line x1="1062.5" y1="176" x2="1062.5" y2="321" stroke="#000"/>
<rect x="1060" y="177" width="5" height="137" fill="#000"/>
<line x1="1070.5" y1="284" x2="1070.5" y2="355" stroke="#000"/>
<rect x="1068" y="311" width="5" height="18" fill="#000"/>
<line x1="1078.5" y1="313" x2="1078.5" y2="361" stroke="#000"/>
<rect x="1076" y="327" width="5" height="26" fill="#000"/>
<line x1="1086.5" y1="347" x2="1086.5" y2="458" stroke="#000"/>
<rect x="1084" y="353" width="5" height="75" fill="#000"/>
<line x1="1094.5" y1="429" x2="1094.5" y2="537" stroke="#000"/>
<rect x="1092" y="429" width="5" height="76" fill="#000"/>
<line x1="1102.5" y1="347" x2="1102.5" y2="394" stroke="#000"/>
<rect x="1100" y="367" width="5" height="8" fill="#000"/>
<line x1="1110.5" y1="284" x2="1110.5" y2="377" stroke="#000"/>
<rect x="1108.5" y="325.5" width="4" height="47" fill="#fff" stroke="#000"/>
<line x1="1118.5" y1="320" x2="1118.5" y2="413" stroke="#000"/>
<rect x="1116" y="326" width="5" height="55" fill="#000"/>
<line x1="1126.5" y1="345" x2="1126.5" y2="391" stroke="#000"/>
<rect x="1124.5" y="364.5" width="4" height="15" fill="#fff" stroke="#000"/>
<line x1="1134.5" y1="329" x2="1134.5" y2="399" stroke="#000"/>
<rect x="1132.5" y="344.5" width="4" height="18" fill="#fff" stroke="#000"/>
<line x1="1142.5" y1="340" x2="1142.5" y2="358" stroke="#000"/>
<rect x="1140" y="344" width="5" height="12" fill="#000"/>
<line x1="1150.5" y1="306" x2="1150.5" y2="338" stroke="#000"/>
<rect x="1148.5" y="311.5" width="4" height="22" fill="#fff" stroke="#000"/>
<line x1="1158.5" y1="298" x2="1158.5" y2="345" stroke="#000"/>
<rect x="1156" y="310" width="5" height="33" fill="#000"/>
<line x1="1166.5" y1="340" x2="1166.5" y2="565" stroke="#000"/>
<rect x="1164" y="343" width="5" height="178" fill="#000"/>
<line x1="1174.5" y1="480" x2="1174.5" y2="527" stroke="#000"/>
<rect x="1172.5" y="503.5" width="4" height="15" fill="#fff" stroke="#000"/>
<line x1="1182.5" y1="469" x2="1182.5" y2="554" stroke="#000"/>
<rect x="1180" y="503" width="5" height="3" fill="#000"/>
<line x1="1190.5" y1="492" x2="1190.5" y2="532" stroke="#000"/>
<rect x="1188.5" y="503.5" width="4" height="2" fill="#fff" stroke="#000"/>
<line x1="1198.5" y1="464" x2="1198.5" y2="503" stroke="#000"/>
<rect x="1196" y="464" width="5" height="5" fill="#000"/>
<line x1="1206.5" y1="413" x2="1206.5" y2="521" stroke="#000"/>
<rect x="1204.5" y="434.5" width="4" height="31" fill="#fff" stroke="#000"/>
<line x1="1214.5" y1="393" x2="1214.5" y2="467" stroke="#000"/>
<rect x="1212.5" y="415.5" width="4" height="18" fill="#fff" stroke="#000"/>
<line x1="1222.5" y1="404" x2="1222.5" y2="437" stroke="#000"/>
<rect x="1220" y="415" width="5" height="20" fill="#000"/>
<line x1="1230.5" y1="407" x2="1230.5" y2="515" stroke="#000"/>
<rect x="1228" y="434" width="5" height="68" fill="#000"/>
<line x1="1238.5" y1="485" x2="1238.5" y2="544" stroke="#000"/>
<rect x="1236" y="501" width="5" height="14" fill="#000"/>
<line x1="1246.5" y1="501" x2="1246.5" y2="537" stroke="#000"/>
<rect x="1244" y="523" width="5" height="12" fill="#000"/>
<line x1="1254.5" y1="451" x2="1254.5" y2="519" stroke="#000"/>
<rect x="1252.5" y="484.5" width="4" height="34" fill="#fff" stroke="#000"/>
<line x1="1262.5" y1="460" x2="1262.5" y2="520" stroke="#000"/>
<rect x="1260" y="484" width="5" height="4" fill="#000"/>
<line x1="1270.5" y1="483" x2="1270.5" y2="537" stroke="#000"/>
<rect x="1268.5" y="484.5" width="4" height="2" fill="#fff" stroke="#000"/>
<line x1="1278.5" y1="447" x2="1278.5" y2="525" stroke="#000"/>
<rect x="1276.5" y="464.5" width="4" height="20" fill="#fff" stroke="#000"/>
<line x1="1286.5" y1="449" x2="1286.5" y2="475" stroke="#000"/>
<rect x="1284.5" y="453.5" width="4" height="11" fill="#fff" stroke="#000"/>
<line x1="1294.5" y1="458" x2="1294.5" y2="483" stroke="#000"/>
<rect x="1292" y="459" width="5" height="11" fill="#000"/>
<line x1="1302.5" y1="465" x2="1302.5" y2="524" stroke="#000"/>
<rect x="1300" y="474" width="5" height="1" fill="#000"/>
<line x1="1310.5" y1="406" x2="1310.5" y2="477" stroke="#000"/>
<rect x="1308.5" y="453.5" width="4" height="19" fill="#fff" stroke="#000"/>
<line x1="1318.5" y1="405" x2="1318.5" y2="465" stroke="#000"/>
<rect x="1316" y="453" width="5" height="10" fill="#000"/>
<line x1="1326.5" y1="446" x2="1326.5" y2="517" stroke="#000"/>
<rect x="1324" y="463" width="5" height="43" fill="#000"/>
<line x1="1334.5" y1="500" x2="1334.5" y2="522" stroke="#000"/>
<rect x="1332" y="505" width="5" height="6" fill="#000"/>
<line x1="1342.5" y1="439" x2="1342.5" y2="468" stroke="#000"/>
<rect x="1340.5" y="443.5" width="4" height="22" fill="#fff" stroke="#000"/>
<line x1="1350.5" y1="439" x2="1350.5" y2="501" stroke="#000"/>
<rect x="1348" y="440" width="5" height="20" fill="#000"/>
<line x1="1358.5" y1="442" x2="1358.5" y2="499" stroke="#000"/>
<rect x="1356" y="459" width="5" height="32" fill="#000"/>
<line x1="1366.5" y1="452" x2="1366.5" y2="495" stroke="#000"/>
<rect x="1364.5" y="459.5" width="4" height="33" fill="#fff" stroke="#000"/>
<line x1="1374.5" y1="412" x2="1374.5" y2="462" stroke="#000"/>
<rect x="1372.5" y="416.5" width="4" height="42" fill="#fff" stroke="#000"/>
<line x1="1382.5" y1="409" x2="1382.5" y2="437" stroke="#000"/>
<rect x="1380" y="417" width="5" height="3" fill="#000"/>
</g>
<rect x="1249" y="433" width="166" height="6" fill="#00ff00" shape-rendering="crispEdges"/>
<g>
<line x1="1155.3" y1="330.0" x2="1163.2" y2="559.0" stroke="#ff0000" stroke-width="3.3"/><polygon points="1163.5,568.0 1158.1,557.2 1168.1,556.8" fill="#ff0000"/>
<line x1="1163.8" y1="567.0" x2="1210.1" y2="418.6" stroke="#ff0000" stroke-width="3.3"/><polygon points="1212.8,410.0 1214.3,422.0 1204.7,419.0" fill="#ff0000"/>
<line x1="1212.5" y1="410.0" x2="1245.6" y2="529.3" stroke="#ff0000" stroke-width="3.3"/><polygon points="1248.0,538.0 1240.2,528.7 1249.9,526.1" fill="#ff0000"/>
<line x1="1244.5" y1="542.5" x2="1308.8" y2="419.0" stroke="#ff0000" stroke-width="3.3"/><polygon points="1313.0,411.0 1312.4,423.1 1303.5,418.4" fill="#ff0000"/>
<line x1="1314.5" y1="412.0" x2="1329.2" y2="513.1" stroke="#ff0000" stroke-width="3.3"/><polygon points="1330.5,522.0 1324.0,511.8 1333.9,510.4" fill="#ff0000"/>
<line x1="1333.0" y1="520.5" x2="1392.3" y2="416.8" stroke="#ff0000" stroke-width="3.3"/><polygon points="1396.8,409.0 1395.7,421.0 1387.0,416.1" fill="#ff0000"/>
</g>
<g clip-path="url(#cd)" shape-rendering="crispEdges">
<line x1="-1.5" y1="624.5" x2="-1.5" y2="635.0" stroke="#c0c0c0"/>
<line x1="6.5" y1="626.0" x2="6.5" y2="635.0" stroke="#c0c0c0"/>
<line x1="14.5" y1="631.2" x2="14.5" y2="635.0" stroke="#c0c0c0"/>
<line x1="30.5" y1="635.0" x2="30.5" y2="636.2" stroke="#c0c0c0"/>
<line x1="38.5" y1="635.0" x2="38.5" y2="640.9" stroke="#c0c0c0"/>
<line x1="46.5" y1="635.0" x2="46.5" y2="642.0" stroke="#c0c0c0"/>
<line x1="54.5" y1="635.0" x2="54.5" y2="642.3" stroke="#c0c0c0"/>
<line x1="62.5" y1="635.0" x2="62.5" y2="642.0" stroke="#c0c0c0"/>
<line x1="70.5" y1="635.0" x2="70.5" y2="641.1" stroke="#c0c0c0"/>
<line x1="78.5" y1="635.0" x2="78.5" y2="641.1" stroke="#c0c0c0"/>
<line x1="86.5" y1="635.0" x2="86.5" y2="639.8" stroke="#c0c0c0"/>
<line x1="94.5" y1="635.0" x2="94.5" y2="639.7" stroke="#c0c0c0"/>
<line x1="102.5" y1="635.0" x2="102.5" y2="638.1" stroke="#c0c0c0"/>
<line x1="110.5" y1="635.0" x2="110.5" y2="640.7" stroke="#c0c0c0"/>
<line x1="118.5" y1="635.0" x2="118.5" y2="639.6" stroke="#c0c0c0"/>
<line x1="126.5" y1="635.0" x2="126.5" y2="637.1" stroke="#c0c0c0"/>
<line x1="134.5" y1="633.0" x2="134.5" y2="635.0" stroke="#c0c0c0"/>
<line x1="142.5" y1="621.0" x2="142.5" y2="635.0" stroke="#c0c0c0"/>
<line x1="150.5" y1="609.1" x2="150.5" y2="635.0" stroke="#c0c0c0"/>
<line x1="158.5" y1="599.8" x2="158.5" y2="635.0" stroke="#c0c0c0"/>
<line x1="166.5" y1="594.9" x2="166.5" y2="635.0" stroke="#c0c0c0"/>
<line x1="174.5" y1="592.3" x2="174.5" y2="635.0" stroke="#c0c0c0"/>
<line x1="182.5" y1="589.2" x2="182.5" y2="635.0" stroke="#c0c0c0"/>
<line x1="190.5" y1="588.4" x2="190.5" y2="635.0" stroke="#c0c0c0"/>
<line x1="198.5" y1="587.5" x2="198.5" y2="635.0" stroke="#c0c0c0"/>
<line x1="206.5" y1="588.3" x2="206.5" y2="635.0" stroke="#c0c0c0"/>
<line x1="214.5" y1="588.7" x2="214.5" y2="635.0" stroke="#c0c0c0"/>
<line x1="222.5" y1="589.4" x2="222.5" y2="635.0" stroke="#c0c0c0"/>
<line x1="230.5" y1="590.6" x2="230.5" y2="635.0" stroke="#c0c0c0"/>
<line x1="238.5" y1="592.9" x2="238.5" y2="635.0" stroke="#c0c0c0"/>
<line x1="246.5" y1="595.7" x2="246.5" y2="635.0" stroke="#c0c0c0"/>
<line x1="254.5" y1="598.2" x2="254.5" y2="635.0" stroke="#c0c0c0"/>
<line x1="262.5" y1="599.2" x2="262.5" y2="635.0" stroke="#c0c0c0"/>
<line x1="270.5" y1="596.0" x2="270.5" y2="635.0" stroke="#c0c0c0"/>
<line x1="278.5" y1="593.2" x2="278.5" y2="635.0" stroke="#c0c0c0"/>
<line x1="286.5" y1="587.9" x2="286.5" y2="635.0" stroke="#c0c0c0"/>
<line x1="294.5" y1="588.6" x2="294.5" y2="635.0" stroke="#c0c0c0"/>
<line x1="302.5" y1="589.1" x2="302.5" y2="635.0" stroke="#c0c0c0"/>
<line x1="310.5" y1="592.1" x2="310.5" y2="635.0" stroke="#c0c0c0"/>
<line x1="318.5" y1="594.0" x2="318.5" y2="635.0" stroke="#c0c0c0"/>
<line x1="326.5" y1="595.1" x2="326.5" y2="635.0" stroke="#c0c0c0"/>
<line x1="334.5" y1="596.1" x2="334.5" y2="635.0" stroke="#c0c0c0"/>
<line x1="342.5" y1="601.2" x2="342.5" y2="635.0" stroke="#c0c0c0"/>
<line x1="350.5" y1="603.2" x2="350.5" y2="635.0" stroke="#c0c0c0"/>
<line x1="358.5" y1="604.5" x2="358.5" y2="635.0" stroke="#c0c0c0"/>
<line x1="366.5" y1="607.0" x2="366.5" y2="635.0" stroke="#c0c0c0"/>
<line x1="374.5" y1="608.7" x2="374.5" y2="635.0" stroke="#c0c0c0"/>
<line x1="382.5" y1="608.8" x2="382.5" y2="635.0" stroke="#c0c0c0"/>
<line x1="390.5" y1="613.3" x2="390.5" y2="635.0" stroke="#c0c0c0"/>
<line x1="398.5" y1="617.3" x2="398.5" y2="635.0" stroke="#c0c0c0"/>
<line x1="406.5" y1="619.5" x2="406.5" y2="635.0" stroke="#c0c0c0"/>
<line x1="414.5" y1="620.7" x2="414.5" y2="635.0" stroke="#c0c0c0"/>
<line x1="422.5" y1="621.3" x2="422.5" y2="635.0" stroke="#c0c0c0"/>
<line x1="430.5" y1="622.5" x2="430.5" y2="635.0" stroke="#c0c0c0"/>
<line x1="438.5" y1="631.6" x2="438.5" y2="635.0" stroke="#c0c0c0"/>
<line x1="446.5" y1="635.0" x2="446.5" y2="636.1" stroke="#c0c0c0"/>
<line x1="454.5" y1="635.0" x2="454.5" y2="642.1" stroke="#c0c0c0"/>
<line x1="462.5" y1="635.0" x2="462.5" y2="647.6" stroke="#c0c0c0"/>
<line x1="470.5" y1="635.0" x2="470.5" y2="650.5" stroke="#c0c0c0"/>
<line x1="478.5" y1="635.0" x2="478.5" y2="654.2" stroke="#c0c0c0"/>
<line x1="486.5" y1="635.0" x2="486.5" y2="659.1" stroke="#c0c0c0"/>
<line x1="494.5" y1="635.0" x2="494.5" y2="661.1" stroke="#c0c0c0"/>
<line x1="502.5" y1="635.0" x2="502.5" y2="659.8" stroke="#c0c0c0"/>
<line x1="510.5" y1="635.0" x2="510.5" y2="661.7" stroke="#c0c0c0"/>
<line x1="518.5" y1="635.0" x2="518.5" y2="665.4" stroke="#c0c0c0"/>
<line x1="526.5" y1="635.0" x2="526.5" y2="668.0" stroke="#c0c0c0"/>
<line x1="534.5" y1="635.0" x2="534.5" y2="665.0" stroke="#c0c0c0"/>
<line x1="542.5" y1="635.0" x2="542.5" y2="659.9" stroke="#c0c0c0"/>
<line x1="550.5" y1="635.0" x2="550.5" y2="655.6" stroke="#c0c0c0"/>
<line x1="558.5" y1="635.0" x2="558.5" y2="650.7" stroke="#c0c0c0"/>
<line x1="566.5" y1="635.0" x2="566.5" y2="647.0" stroke="#c0c0c0"/>
<line x1="574.5" y1="635.0" x2="574.5" y2="643.6" stroke="#c0c0c0"/>
<line x1="582.5" y1="635.0" x2="582.5" y2="638.1" stroke="#c0c0c0"/>
<line x1="590.5" y1="632.5" x2="590.5" y2="635.0" stroke="#c0c0c0"/>
<line x1="598.5" y1="628.7" x2="598.5" y2="635.0" stroke="#c0c0c0"/>
<line x1="606.5" y1="624.0" x2="606.5" y2="635.0" stroke="#c0c0c0"/>
<line x1="614.5" y1="619.9" x2="614.5" y2="635.0" stroke="#c0c0c0"/>
<line x1="622.5" y1="615.3" x2="622.5" y2="635.0" stroke="#c0c0c0"/>
<line x1="630.5" y1="613.0" x2="630.5" y2="635.0" stroke="#c0c0c0"/>
<line x1="638.5" y1="611.3" x2="638.5" y2="635.0" stroke="#c0c0c0"/>
<line x1="646.5" y1="610.2" x2="646.5" y2="635.0" stroke="#c0c0c0"/>
<line x1="654.5" y1="609.9" x2="654.5" y2="635.0" stroke="#c0c0c0"/>
<line x1="662.5" y1="610.1" x2="662.5" y2="635.0" stroke="#c0c0c0"/>
<line x1="670.5" y1="610.5" x2="670.5" y2="635.0" stroke="#c0c0c0"/>
<line x1="678.5" y1="608.6" x2="678.5" y2="635.0" stroke="#c0c0c0"/>
<line x1="686.5" y1="609.1" x2="686.5" y2="635.0" stroke="#c0c0c0"/>
<line x1="694.5" y1="609.1" x2="694.5" y2="635.0" stroke="#c0c0c0"/>
<line x1="702.5" y1="608.3" x2="702.5" y2="635.0" stroke="#c0c0c0"/>
<line x1="710.5" y1="608.4" x2="710.5" y2="635.0" stroke="#c0c0c0"/>
<line x1="718.5" y1="607.4" x2="718.5" y2="635.0" stroke="#c0c0c0"/>
<line x1="726.5" y1="611.3" x2="726.5" y2="635.0" stroke="#c0c0c0"/>
<line x1="734.5" y1="614.1" x2="734.5" y2="635.0" stroke="#c0c0c0"/>
<line x1="742.5" y1="618.9" x2="742.5" y2="635.0" stroke="#c0c0c0"/>
<line x1="750.5" y1="623.9" x2="750.5" y2="635.0" stroke="#c0c0c0"/>
<line x1="758.5" y1="627.9" x2="758.5" y2="635.0" stroke="#c0c0c0"/>
<line x1="766.5" y1="630.7" x2="766.5" y2="635.0" stroke="#c0c0c0"/>
<line x1="774.5" y1="635.0" x2="774.5" y2="635.7" stroke="#c0c0c0"/>
<line x1="782.5" y1="635.0" x2="782.5" y2="635.5" stroke="#c0c0c0"/>
<line x1="790.5" y1="635.0" x2="790.5" y2="636.8" stroke="#c0c0c0"/>
<line x1="798.5" y1="635.0" x2="798.5" y2="637.6" stroke="#c0c0c0"/>
<line x1="806.5" y1="635.0" x2="806.5" y2="637.8" stroke="#c0c0c0"/>
<line x1="814.5" y1="635.0" x2="814.5" y2="637.8" stroke="#c0c0c0"/>
<line x1="838.5" y1="635.0" x2="838.5" y2="635.7" stroke="#c0c0c0"/>
<line x1="846.5" y1="635.0" x2="846.5" y2="635.7" stroke="#c0c0c0"/>
<line x1="854.5" y1="635.0" x2="854.5" y2="635.5" stroke="#c0c0c0"/>
<line x1="862.5" y1="635.0" x2="862.5" y2="635.9" stroke="#c0c0c0"/>
<line x1="870.5" y1="634.1" x2="870.5" y2="635.0" stroke="#c0c0c0"/>
<line x1="878.5" y1="631.5" x2="878.5" y2="635.0" stroke="#c0c0c0"/>
<line x1="886.5" y1="627.1" x2="886.5" y2="635.0" stroke="#c0c0c0"/>
<line x1="894.5" y1="626.0" x2="894.5" y2="635.0" stroke="#c0c0c0"/>
<line x1="902.5" y1="624.8" x2="902.5" y2="635.0" stroke="#c0c0c0"/>
<line x1="910.5" y1="626.1" x2="910.5" y2="635.0" stroke="#c0c0c0"/>
<line x1="918.5" y1="626.7" x2="918.5" y2="635.0" stroke="#c0c0c0"/>
<line x1="926.5" y1="627.7" x2="926.5" y2="635.0" stroke="#c0c0c0"/>
<line x1="934.5" y1="626.5" x2="934.5" y2="635.0" stroke="#c0c0c0"/>
<line x1="942.5" y1="629.1" x2="942.5" y2="635.0" stroke="#c0c0c0"/>
<line x1="950.5" y1="629.9" x2="950.5" y2="635.0" stroke="#c0c0c0"/>
<line x1="958.5" y1="631.2" x2="958.5" y2="635.0" stroke="#c0c0c0"/>
<line x1="966.5" y1="635.0" x2="966.5" y2="638.6" stroke="#c0c0c0"/>
<line x1="974.5" y1="635.0" x2="974.5" y2="645.9" stroke="#c0c0c0"/>
<line x1="982.5" y1="635.0" x2="982.5" y2="652.8" stroke="#c0c0c0"/>
<line x1="990.5" y1="635.0" x2="990.5" y2="654.3" stroke="#c0c0c0"/>
<line x1="998.5" y1="635.0" x2="998.5" y2="654.6" stroke="#c0c0c0"/>
<line x1="1006.5" y1="635.0" x2="1006.5" y2="654.5" stroke="#c0c0c0"/>
<line x1="1014.5" y1="635.0" x2="1014.5" y2="652.2" stroke="#c0c0c0"/>
<line x1="1022.5" y1="635.0" x2="1022.5" y2="651.4" stroke="#c0c0c0"/>
<line x1="1030.5" y1="635.0" x2="1030.5" y2="650.2" stroke="#c0c0c0"/>
<line x1="1038.5" y1="635.0" x2="1038.5" y2="649.3" stroke="#c0c0c0"/>
<line x1="1046.5" y1="635.0" x2="1046.5" y2="648.2" stroke="#c0c0c0"/>
<line x1="1054.5" y1="635.0" x2="1054.5" y2="650.5" stroke="#c0c0c0"/>
<line x1="1062.5" y1="635.0" x2="1062.5" y2="666.9" stroke="#c0c0c0"/>
<line x1="1070.5" y1="635.0" x2="1070.5" y2="680.9" stroke="#c0c0c0"/>
<line x1="1078.5" y1="635.0" x2="1078.5" y2="694.0" stroke="#c0c0c0"/>
<line x1="1086.5" y1="635.0" x2="1086.5" y2="711.6" stroke="#c0c0c0"/>
<line x1="1094.5" y1="635.0" x2="1094.5" y2="732.8" stroke="#c0c0c0"/>
<line x1="1102.5" y1="635.0" x2="1102.5" y2="734.3" stroke="#c0c0c0"/>
<line x1="1110.5" y1="635.0" x2="1110.5" y2="729.0" stroke="#c0c0c0"/>
<line x1="1118.5" y1="635.0" x2="1118.5" y2="729.8" stroke="#c0c0c0"/>
<line x1="1126.5" y1="635.0" x2="1126.5" y2="727.6" stroke="#c0c0c0"/>
<line x1="1134.5" y1="635.0" x2="1134.5" y2="722.5" stroke="#c0c0c0"/>
<line x1="1142.5" y1="635.0" x2="1142.5" y2="718.9" stroke="#c0c0c0"/>
<line x1="1150.5" y1="635.0" x2="1150.5" y2="710.4" stroke="#c0c0c0"/>
<line x1="1158.5" y1="635.0" x2="1158.5" y2="706.2" stroke="#c0c0c0"/>
<line x1="1166.5" y1="635.0" x2="1166.5" y2="721.1" stroke="#c0c0c0"/>
<line x1="1174.5" y1="635.0" x2="1174.5" y2="729.9" stroke="#c0c0c0"/>
<line x1="1182.5" y1="635.0" x2="1182.5" y2="736.1" stroke="#c0c0c0"/>
<line x1="1190.5" y1="635.0" x2="1190.5" y2="739.4" stroke="#c0c0c0"/>
<line x1="1198.5" y1="635.0" x2="1198.5" y2="737.3" stroke="#c0c0c0"/>
<line x1="1206.5" y1="635.0" x2="1206.5" y2="730.6" stroke="#c0c0c0"/>
<line x1="1214.5" y1="635.0" x2="1214.5" y2="722.3" stroke="#c0c0c0"/>
<line x1="1222.5" y1="635.0" x2="1222.5" y2="716.9" stroke="#c0c0c0"/>
<line x1="1230.5" y1="635.0" x2="1230.5" y2="718.9" stroke="#c0c0c0"/>
<line x1="1238.5" y1="635.0" x2="1238.5" y2="721.0" stroke="#c0c0c0"/>
<line x1="1246.5" y1="635.0" x2="1246.5" y2="723.7" stroke="#c0c0c0"/>
<line x1="1254.5" y1="635.0" x2="1254.5" y2="719.4" stroke="#c0c0c0"/>
<line x1="1262.5" y1="635.0" x2="1262.5" y2="715.5" stroke="#c0c0c0"/>
<line x1="1270.5" y1="635.0" x2="1270.5" y2="711.1" stroke="#c0c0c0"/>
<line x1="1278.5" y1="635.0" x2="1278.5" y2="704.7" stroke="#c0c0c0"/>
<line x1="1286.5" y1="635.0" x2="1286.5" y2="697.6" stroke="#c0c0c0"/>
<line x1="1294.5" y1="635.0" x2="1294.5" y2="693.2" stroke="#c0c0c0"/>
<line x1="1302.5" y1="635.0" x2="1302.5" y2="689.6" stroke="#c0c0c0"/>
<line x1="1310.5" y1="635.0" x2="1310.5" y2="683.8" stroke="#c0c0c0"/>
<line x1="1318.5" y1="635.0" x2="1318.5" y2="679.8" stroke="#c0c0c0"/>
<line x1="1326.5" y1="635.0" x2="1326.5" y2="680.8" stroke="#c0c0c0"/>
<line x1="1334.5" y1="635.0" x2="1334.5" y2="681.5" stroke="#c0c0c0"/>
<line x1="1342.5" y1="635.0" x2="1342.5" y2="674.3" stroke="#c0c0c0"/>
<line x1="1350.5" y1="635.0" x2="1350.5" y2="670.1" stroke="#c0c0c0"/>
<line x1="1358.5" y1="635.0" x2="1358.5" y2="669.7" stroke="#c0c0c0"/>
<line x1="1366.5" y1="635.0" x2="1366.5" y2="665.6" stroke="#c0c0c0"/>
<line x1="1374.5" y1="635.0" x2="1374.5" y2="657.4" stroke="#c0c0c0"/>
<line x1="1382.5" y1="635.0" x2="1382.5" y2="651.1" stroke="#c0c0c0"/>
<polyline points="-1.5,634.2 6.5,632.4 14.5,630.5 22.5,629.2 30.5,629.2 38.5,630.3 46.5,632.4 54.5,633.5 62.5,635.5 70.5,637.4 78.5,639.1 86.5,640.0 94.5,640.6 102.5,640.8 110.5,640.8 118.5,640.5 126.5,639.9 134.5,638.9 142.5,636.7 150.5,633.1 158.5,628.7 166.5,623.7 174.5,618.6 182.5,612.9 190.5,607.2 198.5,601.7 206.5,596.7 214.5,593.1 222.5,590.9 230.5,589.9 238.5,589.7 246.5,590.1 254.5,591.1 262.5,592.3 270.5,593.2 278.5,593.8 286.5,593.7 294.5,593.6 302.5,593.5 310.5,593.4 318.5,593.2 326.5,592.8 334.5,592.5 342.5,593.1 350.5,594.2 358.5,596.0 366.5,598.0 374.5,600.2 382.5,602.1 390.5,604.2 398.5,606.7 406.5,609.3 414.5,611.4 422.5,613.5 430.5,615.5 438.5,618.2 446.5,621.2 454.5,624.9 462.5,628.7 470.5,632.4 478.5,636.3 486.5,640.6 494.5,645.0 502.5,649.1 510.5,652.5 518.5,655.7 526.5,658.6 534.5,660.5 542.5,661.6 550.5,661.7 558.5,660.8 566.5,659.2 574.5,657.4 582.5,654.8 590.5,651.2 598.5,646.8 606.5,642.2 614.5,637.8 622.5,633.3 630.5,629.1 638.5,625.2 646.5,621.4 654.5,618.3 662.5,615.8 670.5,613.8 678.5,612.1 686.5,610.9 694.5,610.2 702.5,609.7 710.5,609.4 718.5,609.1 726.5,609.2 734.5,609.7 742.5,610.6 750.5,612.3 758.5,614.4 766.5,616.8 774.5,619.8 782.5,622.8 790.5,626.1 798.5,629.0 806.5,631.6 814.5,633.7 822.5,634.9 830.5,635.8 838.5,636.3 846.5,636.3 854.5,636.3 862.5,636.2 870.5,635.9 878.5,635.2 886.5,634.0 894.5,633.0 902.5,631.8 910.5,630.8 918.5,629.7 926.5,628.9 934.5,627.8 942.5,627.3 950.5,627.1 958.5,627.6 966.5,629.0 974.5,631.3 982.5,634.3 990.5,637.3 998.5,640.3 1006.5,643.4 1014.5,646.0 1022.5,648.4 1030.5,650.5 1038.5,651.7 1046.5,651.9 1054.5,651.7 1062.5,653.1 1070.5,656.0 1078.5,660.4 1086.5,667.0 1094.5,676.0 1102.5,685.4 1110.5,694.2 1118.5,703.3 1126.5,711.9 1134.5,718.0 1142.5,722.3 1150.5,724.1 1158.5,723.5 1166.5,722.2 1174.5,721.7 1182.5,722.5 1190.5,723.6 1198.5,724.7 1206.5,725.6 1214.5,725.9 1222.5,726.7 1230.5,728.1 1238.5,728.0 1246.5,727.4 1254.5,725.5 1262.5,722.8 1270.5,719.9 1278.5,717.1 1286.5,714.3 1294.5,711.7 1302.5,708.4 1310.5,704.3 1318.5,699.4 1326.5,695.1 1334.5,691.3 1342.5,687.2 1350.5,683.4 1358.5,680.3 1366.5,677.2 1374.5,673.6 1382.5,670.0" fill="none" stroke="#ff0000" stroke-dasharray="3,3"/>
</g>
<text x="-6.5" y="589.6" font-size="9.5" fill="#000" text-anchor="start"  stroke="#000" stroke-width="0.12">MACD(12,26,9) -60.50 -131.97</text>
<g clip-path="url(#cr)" shape-rendering="crispEdges">
<line x1="3" y1="786.5" x2="1649" y2="786.5" stroke="#c0c0c0" stroke-dasharray="3,3"/>
<line x1="3" y1="837.5" x2="1649" y2="837.5" stroke="#c0c0c0" stroke-dasharray="3,3"/>
<line x1="3" y1="898.5" x2="1649" y2="898.5" stroke="#c0c0c0" stroke-dasharray="3,3"/>
<polyline points="-1.5,829.6 6.5,837.4 14.5,849.2 22.5,846.9 30.5,842.4 38.5,852.8 46.5,843.9 54.5,842.1 62.5,840.7 70.5,838.7 78.5,841.2 86.5,836.6 94.5,840.4 102.5,834.4 110.5,848.8 118.5,837.5 126.5,831.9 134.5,825.2 142.5,805.7 150.5,801.3 158.5,800.8 166.5,808.8 174.5,812.0 182.5,808.9 190.5,813.0 198.5,811.4 206.5,815.4 214.5,813.4 222.5,813.0 230.5,814.0 238.5,818.4 246.5,821.2 254.5,820.6 262.5,815.5 270.5,802.6 278.5,800.9 286.5,793.1 294.5,815.4 302.5,813.9 310.5,823.1 318.5,820.3 326.5,817.8 334.5,816.7 342.5,834.4 350.5,826.3 358.5,824.1 366.5,829.3 374.5,827.3 382.5,822.2 390.5,839.2 398.5,839.9 406.5,835.2 414.5,832.8 422.5,831.0 430.5,833.6 438.5,861.2 446.5,850.5 454.5,857.0 462.5,859.5 470.5,853.9 478.5,858.4 486.5,864.1 494.5,857.0 502.5,847.0 510.5,855.7 518.5,862.1 526.5,862.0 534.5,844.4 542.5,836.9 550.5,836.7 558.5,832.9 566.5,833.8 574.5,832.8 582.5,823.6 590.5,820.1 598.5,822.1 606.5,816.9 614.5,815.2 622.5,810.6 630.5,816.4 638.5,816.1 646.5,815.7 654.5,817.8 662.5,818.5 670.5,818.3 678.5,808.6 686.5,819.7 694.5,816.8 702.5,812.7 710.5,815.6 718.5,810.1 726.5,835.8 734.5,833.6 742.5,844.6 750.5,848.9 758.5,848.8 766.5,846.3 774.5,858.2 782.5,837.5 790.5,843.5 798.5,842.4 806.5,840.8 814.5,839.9 822.5,825.8 830.5,841.1 838.5,839.0 846.5,838.6 854.5,837.6 862.5,840.1 870.5,830.3 878.5,824.7 886.5,815.4 894.5,827.8 902.5,826.5 910.5,836.6 918.5,834.0 926.5,836.8 934.5,827.2 942.5,843.2 950.5,837.3 958.5,840.3 966.5,861.7 974.5,865.4 982.5,868.7 990.5,852.5 998.5,849.5 1006.5,848.9 1014.5,840.9 1022.5,845.1 1030.5,843.6 1038.5,844.2 1046.5,843.3 1054.5,856.0 1062.5,885.4 1070.5,887.3 1078.5,890.1 1086.5,897.2 1094.5,902.2 1102.5,864.3 1110.5,853.9 1118.5,861.0 1126.5,857.6 1134.5,853.3 1142.5,855.1 1150.5,845.8 1158.5,851.0 1166.5,871.5 1174.5,867.9 1182.5,868.3 1190.5,867.6 1198.5,860.2 1206.5,852.9 1214.5,849.0 1222.5,852.1 1230.5,861.4 1238.5,863.1 1246.5,865.6 1254.5,854.0 1262.5,854.5 1270.5,853.7 1278.5,849.0 1286.5,846.2 1294.5,849.6 1302.5,850.5 1310.5,844.6 1318.5,847.1 1326.5,856.0 1334.5,856.9 1342.5,838.6 1350.5,842.6 1358.5,849.3 1366.5,841.2 1374.5,831.6 1382.5,832.6" fill="none" stroke="#1e90ff"/>
</g>
<text x="-6.5" y="762.6" font-size="9.5" fill="#000" text-anchor="start"  stroke="#000" stroke-width="0.12">RSI(14) 53.3344</text>
<g shape-rendering="crispEdges" stroke="#000" stroke-width="1" fill="none">
<line x1="0" y1="23.5" x2="1650" y2="23.5"/>
<line x1="0" y1="576.5" x2="1650" y2="576.5"/>
<line x1="0" y1="578.5" x2="1650" y2="578.5"/>
<line x1="0" y1="748.5" x2="1650" y2="748.5"/>
<line x1="0" y1="750.5" x2="1650" y2="750.5"/>
<line x1="0" y1="924.5" x2="1650" y2="924.5"/>
<line x1="1649.5" y1="23" x2="1649.5" y2="925"/>
</g>
<g shape-rendering="crispEdges">
<line x1="1650" y1="45.5" x2="1652" y2="45.5" stroke="#000"/>
<line x1="1650" y1="78.5" x2="1652" y2="78.5" stroke="#000"/>
<line x1="1650" y1="111.5" x2="1652" y2="111.5" stroke="#000"/>
<line x1="1650" y1="144.5" x2="1652" y2="144.5" stroke="#000"/>
<line x1="1650" y1="177.5" x2="1652" y2="177.5" stroke="#000"/>
<line x1="1650" y1="210.5" x2="1652" y2="210.5" stroke="#000"/>
<line x1="1650" y1="243.5" x2="1652" y2="243.5" stroke="#000"/>
<line x1="1650" y1="276.5" x2="1652" y2="276.5" stroke="#000"/>
<line x1="1650" y1="309.5" x2="1652" y2="309.5" stroke="#000"/>
<line x1="1650" y1="342.5" x2="1652" y2="342.5" stroke="#000"/>
<line x1="1650" y1="375.5" x2="1652" y2="375.5" stroke="#000"/>
<line x1="1650" y1="408.5" x2="1652" y2="408.5" stroke="#000"/>
<line x1="1650" y1="441.5" x2="1652" y2="441.5" stroke="#000"/>
<line x1="1650" y1="474.5" x2="1652" y2="474.5" stroke="#000"/>
<line x1="1650" y1="507.5" x2="1652" y2="507.5" stroke="#000"/>
<line x1="1650" y1="540.5" x2="1652" y2="540.5" stroke="#000"/>
<line x1="1650" y1="573.5" x2="1652" y2="573.5" stroke="#000"/>
</g>
<text x="1655" y="48.5" font-size="9.4" fill="#000" text-anchor="start"  stroke="#000" stroke-width="0.12">29985.0</text>
<text x="1655" y="81.5" font-size="9.4" fill="#000" text-anchor="start"  stroke="#000" stroke-width="0.12">29815.0</text>
<text x="1655" y="114.5" font-size="9.4" fill="#000" text-anchor="start"  stroke="#000" stroke-width="0.12">29650.0</text>
<text x="1655" y="147.5" font-size="9.4" fill="#000" text-anchor="start"  stroke="#000" stroke-width="0.12">29485.0</text>
<text x="1655" y="180.5" font-size="9.4" fill="#000" text-anchor="start"  stroke="#000" stroke-width="0.12">29315.0</text>
<text x="1655" y="213.5" font-size="9.4" fill="#000" text-anchor="start"  stroke="#000" stroke-width="0.12">29150.0</text>
<text x="1655" y="246.5" font-size="9.4" fill="#000" text-anchor="start"  stroke="#000" stroke-width="0.12">28980.0</text>
<text x="1655" y="279.5" font-size="9.4" fill="#000" text-anchor="start"  stroke="#000" stroke-width="0.12">28815.0</text>
<text x="1655" y="312.5" font-size="9.4" fill="#000" text-anchor="start"  stroke="#000" stroke-width="0.12">28650.0</text>
<text x="1655" y="345.5" font-size="9.4" fill="#000" text-anchor="start"  stroke="#000" stroke-width="0.12">28480.0</text>
<text x="1655" y="378.5" font-size="9.4" fill="#000" text-anchor="start"  stroke="#000" stroke-width="0.12">28315.0</text>
<text x="1655" y="411.5" font-size="9.4" fill="#000" text-anchor="start"  stroke="#000" stroke-width="0.12">28150.0</text>
<text x="1655" y="444.5" font-size="9.4" fill="#000" text-anchor="start"  stroke="#000" stroke-width="0.12">27980.0</text>
<text x="1655" y="477.5" font-size="9.4" fill="#000" text-anchor="start"  stroke="#000" stroke-width="0.12">27815.0</text>
<text x="1655" y="510.5" font-size="9.4" fill="#000" text-anchor="start"  stroke="#000" stroke-width="0.12">27645.0</text>
<text x="1655" y="543.5" font-size="9.4" fill="#000" text-anchor="start"  stroke="#000" stroke-width="0.12">27480.0</text>
<text x="1655" y="576.5" font-size="9.4" fill="#000" text-anchor="start"  stroke="#000" stroke-width="0.12">27315.0</text>
<rect x="1651" y="356" width="41" height="11" fill="#ff0000" shape-rendering="crispEdges"/>
<text x="1655" y="365.5" font-size="9.4" fill="#fff" text-anchor="start"  stroke="#fff" stroke-width="0.12">28380.9</text>
<rect x="1651" y="381" width="41" height="11" fill="#ff0000" shape-rendering="crispEdges"/>
<text x="1655" y="390.5" font-size="9.4" fill="#fff" text-anchor="start"  stroke="#fff" stroke-width="0.12">28254.6</text>
<rect x="1651" y="413" width="41" height="11" fill="#000" shape-rendering="crispEdges"/>
<text x="1655" y="422.5" font-size="9.4" fill="#fff" text-anchor="start"  stroke="#fff" stroke-width="0.12">28092.5</text>
<rect x="1651" y="427" width="41" height="11" fill="#32cd32" shape-rendering="crispEdges"/>
<text x="1655" y="436.5" font-size="9.4" fill="#fff" text-anchor="start"  stroke="#fff" stroke-width="0.12">28022.3</text>
<rect x="1651" y="453" width="41" height="11" fill="#0000ff" shape-rendering="crispEdges"/>
<text x="1655" y="462.5" font-size="9.4" fill="#fff" text-anchor="start"  stroke="#fff" stroke-width="0.12">27890.9</text>
<rect x="1651" y="481" width="41" height="11" fill="#0000ff" shape-rendering="crispEdges"/>
<text x="1655" y="490.5" font-size="9.4" fill="#fff" text-anchor="start"  stroke="#fff" stroke-width="0.12">27749.5</text>
<rect x="1650" y="580" width="1" height="1" fill="#000"/>
<text x="1653" y="588.5" font-size="9.4" fill="#000" text-anchor="start"  stroke="#000" stroke-width="0.12">207.87</text>
<rect x="1650" y="635" width="2" height="1" fill="#000"/>
<text x="1653" y="638.5" font-size="9.4" fill="#000" text-anchor="start"  stroke="#000" stroke-width="0.12">0.00</text>
<rect x="1650" y="747" width="1" height="1" fill="#000"/>
<text x="1653" y="744.5" font-size="9.4" fill="#000" text-anchor="start"  stroke="#000" stroke-width="0.12">-423.08</text>
<rect x="1650" y="752" width="1" height="1" fill="#000"/>
<text x="1653" y="760.5" font-size="9.4" fill="#000" text-anchor="start"  stroke="#000" stroke-width="0.12">100</text>
<text x="1652" y="789.5" font-size="9.4" fill="#000" text-anchor="start"  stroke="#000" stroke-width="0.12">80</text>
<text x="1652" y="840.5" font-size="9.4" fill="#000" text-anchor="start"  stroke="#000" stroke-width="0.12">50</text>
<text x="1652.5" y="901.5" font-size="9.4" fill="#000" text-anchor="start"  stroke="#000" stroke-width="0.12">15</text>
<text x="1653" y="921" font-size="9.4" fill="#000" text-anchor="start"  stroke="#000" stroke-width="0.12">0</text>
<g shape-rendering="crispEdges" stroke="#000">
<line x1="54.5" y1="925" x2="54.5" y2="928"/>
<line x1="118.5" y1="925" x2="118.5" y2="928"/>
<line x1="182.5" y1="925" x2="182.5" y2="928"/>
<line x1="246.5" y1="925" x2="246.5" y2="928"/>
<line x1="310.5" y1="925" x2="310.5" y2="928"/>
<line x1="374.5" y1="925" x2="374.5" y2="928"/>
<line x1="438.5" y1="925" x2="438.5" y2="928"/>
<line x1="502.5" y1="925" x2="502.5" y2="928"/>
<line x1="566.5" y1="925" x2="566.5" y2="928"/>
<line x1="630.5" y1="925" x2="630.5" y2="928"/>
<line x1="694.5" y1="925" x2="694.5" y2="928"/>
<line x1="758.5" y1="925" x2="758.5" y2="928"/>
<line x1="822.5" y1="925" x2="822.5" y2="928"/>
<line x1="886.5" y1="925" x2="886.5" y2="928"/>
<line x1="950.5" y1="925" x2="950.5" y2="928"/>
<line x1="1014.5" y1="925" x2="1014.5" y2="928"/>
<line x1="1078.5" y1="925" x2="1078.5" y2="928"/>
<line x1="1142.5" y1="925" x2="1142.5" y2="928"/>
<line x1="1206.5" y1="925" x2="1206.5" y2="928"/>
<line x1="1270.5" y1="925" x2="1270.5" y2="928"/>
<line x1="1334.5" y1="925" x2="1334.5" y2="928"/>
</g>
<text x="-12.5" y="936" font-size="9.4" fill="#000" text-anchor="start"  stroke="#000" stroke-width="0.12">27 Oct 2021</text>
<text x="54" y="936" font-size="9.4" fill="#000" text-anchor="start"  stroke="#000" stroke-width="0.12">28 Oct 00:00</text>
<text x="118" y="936" font-size="9.4" fill="#000" text-anchor="start"  stroke="#000" stroke-width="0.12">29 Oct 10:55</text>
<text x="182" y="936" font-size="9.4" fill="#000" text-anchor="start"  stroke="#000" stroke-width="0.12">1 Nov 18:55</text>
<text x="246" y="936" font-size="9.4" fill="#000" text-anchor="start"  stroke="#000" stroke-width="0.12">3 Nov 00:00</text>
<text x="310" y="936" font-size="9.4" fill="#000" text-anchor="start"  stroke="#000" stroke-width="0.12">4 Nov 10:55</text>
<text x="374" y="936" font-size="9.4" fill="#000" text-anchor="start"  stroke="#000" stroke-width="0.12">5 Nov 18:55</text>
<text x="438" y="936" font-size="9.4" fill="#000" text-anchor="start"  stroke="#000" stroke-width="0.12">9 Nov 00:00</text>
<text x="502" y="936" font-size="9.4" fill="#000" text-anchor="start"  stroke="#000" stroke-width="0.12">10 Nov 10:55</text>
<text x="566" y="936" font-size="9.4" fill="#000" text-anchor="start"  stroke="#000" stroke-width="0.12">11 Nov 18:55</text>
<text x="630" y="936" font-size="9.4" fill="#000" text-anchor="start"  stroke="#000" stroke-width="0.12">15 Nov 00:00</text>
<text x="694" y="936" font-size="9.4" fill="#000" text-anchor="start"  stroke="#000" stroke-width="0.12">16 Nov 10:55</text>
<text x="758" y="936" font-size="9.4" fill="#000" text-anchor="start"  stroke="#000" stroke-width="0.12">17 Nov 18:55</text>
<text x="822" y="936" font-size="9.4" fill="#000" text-anchor="start"  stroke="#000" stroke-width="0.12">19 Nov 00:00</text>
<text x="886" y="936" font-size="9.4" fill="#000" text-anchor="start"  stroke="#000" stroke-width="0.12">22 Nov 10:55</text>
<text x="950" y="936" font-size="9.4" fill="#000" text-anchor="start"  stroke="#000" stroke-width="0.12">23 Nov 18:55</text>
<text x="1014" y="936" font-size="9.4" fill="#000" text-anchor="start"  stroke="#000" stroke-width="0.12">25 Nov 00:00</text>
<text x="1078" y="936" font-size="9.4" fill="#000" text-anchor="start"  stroke="#000" stroke-width="0.12">26 Nov 10:55</text>
<text x="1142" y="936" font-size="9.4" fill="#000" text-anchor="start"  stroke="#000" stroke-width="0.12">29 Nov 18:55</text>
<text x="1206" y="936" font-size="9.4" fill="#000" text-anchor="start"  stroke="#000" stroke-width="0.12">1 Dec 00:00</text>
<text x="1270" y="936" font-size="9.4" fill="#000" text-anchor="start"  stroke="#000" stroke-width="0.12">2 Dec 10:55</text>
<text x="1334" y="936" font-size="9.4" fill="#000" text-anchor="start"  stroke="#000" stroke-width="0.12">3 Dec 18:55</text>
<g>
<line x1="1252.3" y1="719.3" x2="1385.3" y2="655.3" stroke="#ff0000" stroke-width="3.3"/><polygon points="1393.4,651.4 1385.7,660.7 1381.3,651.7" fill="#ff0000"/>
<line x1="1319.8" y1="856.3" x2="1383.5" y2="833.4" stroke="#ff0000" stroke-width="3.3"/><polygon points="1392.0,830.4 1383.3,838.8 1380.0,829.4" fill="#ff0000"/>
</g>
<text x="5" y="35" font-size="9.4" fill="#000" text-anchor="start" textLength="197" lengthAdjust="spacing" stroke="#000" stroke-width="0.12">JPN225-,H4&#160;&#160;28107.5 28147.5 28005.0 28092.5</text>
<polygon points="1393.8,24 1403.2,24 1398.5,29" fill="#c0c0c0"/>
<g>
<rect x="0" y="0" width="1696" height="19" fill="#f0f0f0"/>
<rect x="0" y="18" width="1696" height="1" fill="#f6f6f6"/>
<rect x="0" y="19" width="1696" height="1" fill="#a8a8a8"/>
<rect x="0" y="20" width="1696" height="1" fill="#6a6a6a"/>
<rect x="0" y="21" width="1696" height="2" fill="#ffffff"/>
<path d="M2.5,5 L4,6.5 L2.5,8 L1,6.5 Z" fill="none" stroke="#111" stroke-width="0.9"/>
<path d="M0,12 L2.5,14.5 L1,16 L0,16 Z" fill="#d8a820"/>
<rect x="10" y="0" width="1" height="17" fill="#a0a0a0"/><rect x="11" y="0" width="1" height="17" fill="#ffffff"/>
<path d="M20.5,0 L28.5,0 L31.5,3 L31.5,12.5 L20.5,12.5 Z" fill="#fff" stroke="#777" stroke-width="1"/><path d="M28.5,0 L28.5,3 L31.5,3" fill="#ddd" stroke="#777" stroke-width="0.8"/><g fill="#8a8a8a"><rect x="22" y="1.5" width="2.5" height="1"/><rect x="22" y="5" width="6" height="1"/><rect x="22" y="7" width="5" height="1"/><rect x="22" y="9" width="3" height="1"/></g><path d="M28,5.5 h4 v3.5 h3.5 v4 h-3.5 v3.5 h-4 v-3.5 h-3.5 v-4 h3.5 z" fill="#22dd22" stroke="#0a9a0a" stroke-width="1"/>
<text x="39" y="10" font-size="12" fill="#000" font-family="'Liberation Sans','Noto Sans CJK SC',sans-serif">新订单</text>
<defs><linearGradient id="gold" x1="0" y1="0" x2="0" y2="1"><stop offset="0" stop-color="#fbe773"/><stop offset="0.6" stop-color="#e6b81c"/><stop offset="1" stop-color="#c98a10"/></linearGradient><linearGradient id="radg" x1="0" y1="0" x2="1" y2="0"><stop offset="0" stop-color="#3a6fd0"/><stop offset="0.5" stop-color="#a8c4d8"/><stop offset="1" stop-color="#3a9a3a"/></linearGradient><linearGradient id="cloudg" x1="0" y1="0" x2="0" y2="1"><stop offset="0" stop-color="#ffffff"/><stop offset="1" stop-color="#c4d0e4"/></linearGradient></defs>
<path d="M92.5,0 C91.5,2 90.5,4 88,8.5 L94.5,14.5 L101.5,9 C102,8 101.8,7 101,6.3 Z" fill="url(#gold)" stroke="#9a5a0c" stroke-width="0.9"/>
<path d="M88.8,9 L94.6,13.6 L101,8.6" fill="none" stroke="#fdf0b0" stroke-width="0.9"/>
<rect x="117" y="0" width="10" height="9" fill="#1a98f0"/><rect x="117" y="0" width="3" height="9" fill="#0c7fd8"/>
<rect x="121" y="3.5" width="5" height="1.4" fill="#e6f2ff"/>
<path d="M117,14.5 C114.3,14.3 114.3,10.5 117.3,10.5 C117.8,8 121.3,7.2 123,9 C124.5,7.6 128,8.4 128,10.8 C131.2,10.8 131.2,14.5 128.5,14.5 Z" fill="url(#cloudg)" stroke="#4a64a0" stroke-width="1"/>
<g fill="none" stroke="url(#radg)" stroke-width="1.1"><circle cx="151" cy="7" r="7.3"/><circle cx="151" cy="7" r="5"/><circle cx="151" cy="7" r="2.9"/></g><circle cx="151" cy="7" r="1.5" fill="#2a5cc8"/><rect x="151" y="7.5" width="1.2" height="7" fill="#18a018"/>
<path d="M171,6 L186,6 L183.5,10 L178,14.5 L176.5,14.5 Z" fill="#f4dc50" stroke="#caa420" stroke-width="0.8"/>
<ellipse cx="178.5" cy="4" rx="7.6" ry="2.4" fill="#6cbfe8" stroke="#2f86b5" stroke-width="0.8"/>
<path d="M175.5,3.5 L177.3,-1 L179.8,-1 L181.5,3.5 Z" fill="#7ccaf0"/>
<circle cx="182.6" cy="10.6" r="4" fill="#d82010" stroke="#b01808" stroke-width="0.6"/>
<rect x="181.3" y="9.3" width="2.6" height="2.6" fill="#fff"/>
<text x="192" y="10" font-size="12" fill="#000" font-family="'Liberation Sans','Noto Sans CJK SC',sans-serif">自动交易</text>
<rect x="246" y="0" width="1" height="17" fill="#a0a0a0"/><rect x="247" y="0" width="1" height="17" fill="#ffffff"/>
<rect x="250" y="1" width="3" height="1" fill="#a8a8a8"/><rect x="250" y="3" width="3" height="1" fill="#a8a8a8"/><rect x="250" y="5" width="3" height="1" fill="#a8a8a8"/><rect x="250" y="7" width="3" height="1" fill="#a8a8a8"/><rect x="250" y="9" width="3" height="1" fill="#a8a8a8"/><rect x="250" y="11" width="3" height="1" fill="#a8a8a8"/><rect x="250" y="13" width="3" height="1" fill="#a8a8a8"/><rect x="250" y="15" width="3" height="1" fill="#a8a8a8"/>
<g stroke="#505050" stroke-width="1" fill="none"><line x1="264.5" y1="1" x2="264.5" y2="15" shape-rendering="crispEdges"/><line x1="262" y1="12.5" x2="276" y2="12.5" shape-rendering="crispEdges"/><path d="M262.8,3 L264.5,1 L266.2,3"/><path d="M274,10.8 L276,12.5 L274,14.2"/></g>
<g stroke="#1a9a1a" stroke-width="1" shape-rendering="crispEdges"><line x1="270.5" y1="3" x2="270.5" y2="10"/><line x1="270" y1="3.5" x2="273" y2="3.5"/><line x1="268" y1="9.5" x2="271" y2="9.5"/></g>
<rect x="285" y="0" width="24" height="17" fill="#f8f8f8"/><rect x="285" y="0" width="1" height="17" fill="#a0a0a0"/><rect x="309" y="0" width="1" height="18" fill="#ffffff"/><rect x="285" y="17" width="24" height="1" fill="#ffffff"/>
<g stroke="#505050" stroke-width="1" fill="none"><line x1="292.5" y1="1" x2="292.5" y2="15" shape-rendering="crispEdges"/><line x1="290" y1="12.5" x2="304" y2="12.5" shape-rendering="crispEdges"/><path d="M290.8,3 L292.5,1 L294.2,3"/><path d="M302,10.8 L304,12.5 L302,14.2"/></g>
<rect x="296" y="1" width="3.5" height="7" fill="#22cc22" stroke="#0a8a0a" stroke-width="0.8"/><line x1="297.8" y1="0" x2="297.8" y2="10" stroke="#0a8a0a" stroke-width="0.8"/>
<g stroke="#505050" stroke-width="1" fill="none"><line x1="320.5" y1="1" x2="320.5" y2="15" shape-rendering="crispEdges"/><line x1="318" y1="12.5" x2="332" y2="12.5" shape-rendering="crispEdges"/><path d="M318.8,3 L320.5,1 L322.2,3"/><path d="M330,10.8 L332,12.5 L330,14.2"/></g>
<path d="M319,9.5 C322,5 324,3 326,4 C328,5 330,7 331.5,8" fill="none" stroke="#1a9a1a" stroke-width="1"/>
<rect x="341" y="0" width="1" height="17" fill="#a0a0a0"/><rect x="342" y="0" width="1" height="17" fill="#ffffff"/>
<line x1="358.5" y1="8.5" x2="364.5" y2="14.5" stroke="#a08420" stroke-width="3.2" stroke-linecap="round"/><line x1="358.5" y1="8.5" x2="364.5" y2="14.5" stroke="#e8cf5a" stroke-width="1.6" stroke-linecap="round"/><circle cx="355.5" cy="5" r="4.6" fill="#dcecfa" stroke="#5b8fcf" stroke-width="1.4"/><rect x="353.0" y="4.2" width="5" height="1.6" fill="#3f78c0"/><rect x="354.7" y="2.5" width="1.6" height="5" fill="#3f78c0"/>
<line x1="386.5" y1="8.5" x2="392.5" y2="14.5" stroke="#a08420" stroke-width="3.2" stroke-linecap="round"/><line x1="386.5" y1="8.5" x2="392.5" y2="14.5" stroke="#e8cf5a" stroke-width="1.6" stroke-linecap="round"/><circle cx="383.5" cy="5" r="4.6" fill="#dcecfa" stroke="#5b8fcf" stroke-width="1.4"/><rect x="381.0" y="4.2" width="5" height="1.6" fill="#3f78c0"/>
<rect x="406.5" y="0.5" width="7" height="6" fill="#3cb043" stroke="#1a3a7a" stroke-width="0.6"/><rect x="408" y="3" width="4" height="1" fill="#fff"/>
<rect x="414.5" y="0.5" width="7" height="6" fill="#2f5fd0" stroke="#1a3a7a" stroke-width="0.6"/><rect x="416" y="3" width="4" height="1" fill="#fff"/>
<rect x="406.5" y="7.5" width="7" height="6" fill="#2f5fd0" stroke="#1a3a7a" stroke-width="0.6"/><rect x="408" y="10" width="4" height="1" fill="#fff"/>
<rect x="414.5" y="7.5" width="7" height="6" fill="#3cb043" stroke="#1a3a7a" stroke-width="0.6"/><rect x="416" y="10" width="4" height="1" fill="#fff"/>
<rect x="431" y="0" width="1" height="17" fill="#a0a0a0"/><rect x="432" y="0" width="1" height="17" fill="#ffffff"/>
<rect x="436" y="0" width="25" height="17" fill="#f8f8f8"/><rect x="436" y="0" width="1" height="17" fill="#a0a0a0"/><rect x="461" y="0" width="1" height="18" fill="#ffffff"/><rect x="436" y="17" width="25" height="1" fill="#ffffff"/>
<g stroke="#505050" stroke-width="1" fill="none"><line x1="444.5" y1="1" x2="444.5" y2="15" shape-rendering="crispEdges"/><line x1="442" y1="12.5" x2="456" y2="12.5" shape-rendering="crispEdges"/><path d="M442.8,3 L444.5,1 L446.2,3"/><path d="M454,10.8 L456,12.5 L454,14.2"/></g>
<polygon points="449.5,2.5 449.5,8 453.5,5.2" fill="none" stroke="#1aaa1a" stroke-width="1.2"/>
<rect x="464" y="0" width="25" height="17" fill="#f8f8f8"/><rect x="464" y="0" width="1" height="17" fill="#a0a0a0"/><rect x="489" y="0" width="1" height="18" fill="#ffffff"/><rect x="464" y="17" width="25" height="1" fill="#ffffff"/>
<g stroke="#505050" stroke-width="1" fill="none"><line x1="471.5" y1="1" x2="471.5" y2="15" shape-rendering="crispEdges"/><line x1="469" y1="12.5" x2="483" y2="12.5" shape-rendering="crispEdges"/><path d="M469.8,3 L471.5,1 L473.2,3"/><path d="M481,10.8 L483,12.5 L481,14.2"/></g>
<rect x="477.5" y="1" width="1.3" height="9" fill="#2060c0"/>
<path d="M480,5.5 L484,5.5 M480,5.5 L482,3.5 M480,5.5 L482,7.5" stroke="#d83010" stroke-width="1.2" fill="none"/>
<rect x="493" y="0" width="1" height="17" fill="#a0a0a0"/><rect x="494" y="0" width="1" height="17" fill="#ffffff"/>
<path d="M503.5,0 L511.5,0 L514.5,3 L514.5,12.5 L503.5,12.5 Z" fill="#fff" stroke="#777" stroke-width="1"/><path d="M511.5,0 L511.5,3 L514.5,3" fill="#ddd" stroke="#777" stroke-width="0.8"/><g fill="#8a8a8a"><rect x="505" y="1.5" width="2.5" height="1"/><rect x="505" y="5" width="6" height="1"/><rect x="505" y="7" width="5" height="1"/><rect x="505" y="9" width="3" height="1"/></g><path d="M511,5.5 h4 v3.5 h3.5 v4 h-3.5 v3.5 h-4 v-3.5 h-3.5 v-4 h3.5 z" fill="#22dd22" stroke="#0a9a0a" stroke-width="1"/>
<polygon points="524,6 530,6 527,9" fill="#111"/>
<rect x="546.5" y="-1" width="5" height="2.5" rx="1" fill="#2a7fd8"/><circle cx="549" cy="6.6" r="6.6" fill="#f7f9fb" stroke="#1868c8" stroke-width="2.8"/><g fill="#999"><rect x="548.6" y="1.8" width="0.8" height="0.8"/><rect x="553.2" y="6.2" width="0.8" height="0.8"/><rect x="544" y="6.2" width="0.8" height="0.8"/><rect x="548.6" y="10.8" width="0.8" height="0.8"/></g><path d="M548.6,2.8 L548.6,6.9 L551.8,6.9" stroke="#222" stroke-width="1.1" fill="none"/>
<polygon points="563,6 569,6 566,9" fill="#111"/>
<rect x="580" y="0" width="16" height="14" rx="1" fill="#3d7cc9"/><rect x="581" y="1" width="14" height="1.2" fill="#9cc4ee"/><rect x="581" y="3" width="14" height="5" fill="#fff"/><rect x="581" y="9" width="14" height="4" fill="#fff"/><path d="M582.2,6.3 L584.5,6.3 L586,5 L587.5,4.6 L589,5.4 L591,5.4 L593,4.5" stroke="#9a2a10" stroke-width="1.2" fill="none"/><path d="M583,11.4 L584.8,10.6 L586.2,11.3 L588,10.5 L590,9.4 L592,11.5" stroke="#189a18" stroke-width="1.2" fill="none"/>
<polygon points="602,6 608,6 605,9" fill="#111"/>
<rect x="614" y="0" width="1" height="17" fill="#a0a0a0"/><rect x="615" y="0" width="1" height="17" fill="#ffffff"/>
<rect x="618" y="1" width="3" height="1" fill="#a8a8a8"/><rect x="618" y="3" width="3" height="1" fill="#a8a8a8"/><rect x="618" y="5" width="3" height="1" fill="#a8a8a8"/><rect x="618" y="7" width="3" height="1" fill="#a8a8a8"/><rect x="618" y="9" width="3" height="1" fill="#a8a8a8"/><rect x="618" y="11" width="3" height="1" fill="#a8a8a8"/><rect x="618" y="13" width="3" height="1" fill="#a8a8a8"/><rect x="618" y="15" width="3" height="1" fill="#a8a8a8"/>
<rect x="624" y="0" width="25" height="17" fill="#f8f8f8"/><rect x="624" y="0" width="1" height="17" fill="#a0a0a0"/><rect x="649" y="0" width="1" height="18" fill="#ffffff"/><rect x="624" y="17" width="25" height="1" fill="#ffffff"/>
<path d="M632.5,1 L632.5,12 L635,9.5 L637.5,14 L639,13 L636.8,8.8 L640,8.8 Z" fill="#4a4a4a"/>
<g fill="#555"><rect x="664" y="0" width="1" height="6"/><rect x="664" y="9" width="1" height="6"/><rect x="657" y="7" width="6" height="1"/><rect x="666" y="7" width="6" height="1"/></g>
<rect x="681" y="0" width="1" height="17" fill="#a0a0a0"/><rect x="682" y="0" width="1" height="17" fill="#ffffff"/>
<rect x="698" y="1" width="1.5" height="13" fill="#555"/>
<rect x="721" y="7" width="12" height="1.5" fill="#555"/>
<line x1="749" y1="14" x2="761" y2="2" stroke="#555" stroke-width="1.3"/>
<g stroke="#555" stroke-width="1" fill="none"><line x1="775" y1="10" x2="786" y2="1"/><line x1="777" y1="14" x2="788" y2="5"/><line x1="778" y1="6" x2="781" y2="10"/><line x1="781" y1="4" x2="784" y2="8"/><line x1="784" y1="2" x2="786" y2="5"/></g>
<text x="786" y="15.5" font-size="6.5" font-weight="bold" fill="#333">E</text>
<g fill="#555"><rect x="804" y="0" width="1" height="1"/><rect x="806" y="0" width="1" height="1"/><rect x="808" y="0" width="1" height="1"/><rect x="810" y="0" width="1" height="1"/><rect x="812" y="0" width="1" height="1"/><rect x="814" y="0" width="1" height="1"/><rect x="816" y="0" width="1" height="1"/><rect x="804" y="3" width="1" height="1"/><rect x="806" y="3" width="1" height="1"/><rect x="808" y="3" width="1" height="1"/><rect x="810" y="3" width="1" height="1"/><rect x="812" y="3" width="1" height="1"/><rect x="814" y="3" width="1" height="1"/><rect x="816" y="3" width="1" height="1"/><rect x="804" y="7" width="1" height="1"/><rect x="806" y="7" width="1" height="1"/><rect x="808" y="7" width="1" height="1"/><rect x="810" y="7" width="1" height="1"/><rect x="812" y="7" width="1" height="1"/><rect x="814" y="7" width="1" height="1"/><rect x="816" y="7" width="1" height="1"/><rect x="804" y="11" width="1" height="1"/><rect x="806" y="11" width="1" height="1"/><rect x="808" y="11" width="1" height="1"/><rect x="810" y="11" width="1" height="1"/><rect x="812" y="11" width="1" height="1"/><rect x="814" y="11" width="1" height="1"/><rect x="816" y="11" width="1" height="1"/></g>
<text x="815" y="15.5" font-size="6.5" font-weight="bold" fill="#333">F</text>
<text x="834.5" y="12" font-size="11.5" font-weight="bold" fill="#555">A</text>
<rect x="861.5" y="0.5" width="11" height="13" fill="none" stroke="#666" stroke-width="1" stroke-dasharray="1,1"/>
<text x="863.3" y="11.5" font-size="11" font-weight="bold" fill="#555">T</text>
<path d="M889,3.5 L892,1 L895,3.5 L892,6 Z" fill="#444"/><path d="M896,10.5 L899,8 L902,10.5 L899,13 Z" fill="#444"/><path d="M890,8 L893,11 L897,5" stroke="#444" stroke-width="1" fill="none"/>
<polygon points="909,6 915,6 912,9" fill="#111"/>
<rect x="920" y="0" width="1" height="17" fill="#a0a0a0"/><rect x="921" y="0" width="1" height="17" fill="#ffffff"/>
<rect x="924" y="1" width="3" height="1" fill="#a8a8a8"/><rect x="924" y="3" width="3" height="1" fill="#a8a8a8"/><rect x="924" y="5" width="3" height="1" fill="#a8a8a8"/><rect x="924" y="7" width="3" height="1" fill="#a8a8a8"/><rect x="924" y="9" width="3" height="1" fill="#a8a8a8"/><rect x="924" y="11" width="3" height="1" fill="#a8a8a8"/><rect x="924" y="13" width="3" height="1" fill="#a8a8a8"/><rect x="924" y="15" width="3" height="1" fill="#a8a8a8"/>
<rect x="1070" y="0" width="25" height="17" fill="#f8f8f8"/><rect x="1070" y="0" width="1" height="17" fill="#a0a0a0"/><rect x="1095" y="0" width="1" height="18" fill="#ffffff"/><rect x="1070" y="17" width="25" height="1" fill="#ffffff"/>
<text x="935" y="11" font-size="9.8" fill="#3a3a3a">M1</text>
<text x="963.5" y="11" font-size="9.8" fill="#3a3a3a">M5</text>
<text x="989" y="11" font-size="9.8" fill="#3a3a3a">M15</text>
<text x="1017" y="11" font-size="9.8" fill="#3a3a3a">M30</text>
<text x="1049" y="11" font-size="9.8" fill="#3a3a3a">H1</text>
<text x="1075.5" y="11" font-size="9.8" fill="#3a3a3a">H4</text>
<text x="1104.5" y="11" font-size="9.8" fill="#3a3a3a">D1</text>
<text x="1132" y="11" font-size="9.8" fill="#3a3a3a">W1</text>
<text x="1159" y="11" font-size="9.8" fill="#3a3a3a">MN</text>
<rect x="1181" y="0" width="1" height="17" fill="#a0a0a0"/><rect x="1182" y="0" width="1" height="17" fill="#ffffff"/>
<circle cx="1651.2" cy="4.6" r="3.4" fill="#fff" stroke="#2a66c8" stroke-width="1.4"/><line x1="1648.6" y1="7.4" x2="1644.6" y2="11.6" stroke="#2a5cb8" stroke-width="2.2" stroke-linecap="round"/>
<path d="M1670,14.5 L1671.5,12 C1667.5,11 1667.5,5 1673,4.5 L1677,4.5 C1682,5 1682,11.5 1677,12 L1673.5,12 Z" fill="#e6e6ea" stroke="#b8b8c0" stroke-width="0.8"/>
<circle cx="1682.6" cy="4.8" r="8" fill="#dd3010"/>
<text x="1682.6" y="9" font-size="11" fill="#fff" text-anchor="middle" font-family="'Liberation Serif',serif">1</text>
</g>
<defs><linearGradient id="gtop" x1="0" y1="0" x2="0" y2="1"><stop offset="0" stop-color="#f45a5a"/><stop offset="1" stop-color="#dc2a2a"/></linearGradient><linearGradient id="gbot" x1="0" y1="0" x2="0" y2="1"><stop offset="0" stop-color="#d42a2a"/><stop offset="1" stop-color="#b40404"/></linearGradient><linearGradient id="gbtn" x1="0" y1="0" x2="0" y2="1"><stop offset="0" stop-color="#f2f2f2"/><stop offset="0.45" stop-color="#e6e6e6"/><stop offset="0.5" stop-color="#d6d6d6"/><stop offset="1" stop-color="#d0d0d0"/></linearGradient></defs>
<g shape-rendering="crispEdges">
<rect x="0" y="67" width="102" height="33" fill="url(#gbot)"/>
<rect x="104" y="67" width="108" height="33" fill="url(#gbot)"/>
<path d="M-1,43.5 L44.5,43.5 L44.5,67.5 L101.5,67.5 L101.5,99.5 L-1,99.5" fill="none" stroke="#b40000" stroke-width="1"/>
<path d="M104.5,99.5 L104.5,67.5 L160.5,67.5 L160.5,43.5 L211.5,43.5 L211.5,99.5 Z" fill="none" stroke="#b40000" stroke-width="1"/>
<rect x="0" y="44" width="44" height="23" fill="url(#gtop)"/>
<rect x="161" y="44" width="50" height="23" fill="url(#gtop)"/>
<rect x="0" y="66" width="41" height="1" fill="#8a0000"/><rect x="0" y="67" width="41" height="1" fill="#f06060"/>
<rect x="164" y="66" width="44" height="1" fill="#8a0000"/><rect x="164" y="67" width="44" height="1" fill="#f06060"/>
<rect x="47.5" y="43.5" width="110" height="21" fill="#fff" stroke="#9aa0a8" stroke-width="1"/>
<rect x="48.5" y="44.5" width="19" height="19" fill="url(#gbtn)" stroke="#b8bcc4" stroke-width="1"/>
<rect x="137.5" y="44.5" width="19" height="19" fill="url(#gbtn)" stroke="#b8bcc4" stroke-width="1"/>
</g>
<polygon points="55.3,52.5 60.5,52.5 57.9,55" fill="#4a5cb0"/>
<polygon points="144.3,55 149.5,55 146.9,52.5" fill="#4a5cb0"/>
<text x="133" y="58" font-size="12" fill="#000" text-anchor="end">1.00</text>
<text x="5" y="59" font-size="12" fill="#fff" textLength="26.5" lengthAdjust="spacingAndGlyphs">SELL</text>
<text x="173.7" y="59" font-size="12" fill="#fff" textLength="23" lengthAdjust="spacingAndGlyphs">BUY</text>
<text x="9" y="95.5" font-size="12.4" font-weight="bold" fill="#fff">28091</text>
<text x="46.5" y="95.5" font-size="21" font-weight="bold" fill="#fff">.</text>
<text x="53.8" y="95.3" font-size="34" fill="#fff">0</text>
<text x="119" y="95.5" font-size="12.4" font-weight="bold" fill="#fff">28114</text>
<text x="157.5" y="95.5" font-size="21" font-weight="bold" fill="#fff">.</text>
<text x="164.4" y="95.3" font-size="34" fill="#fff">0</text>
<rect x="1695" y="21" width="1" height="918" fill="#e2e2e2"/>
</svg>
</body></html>
